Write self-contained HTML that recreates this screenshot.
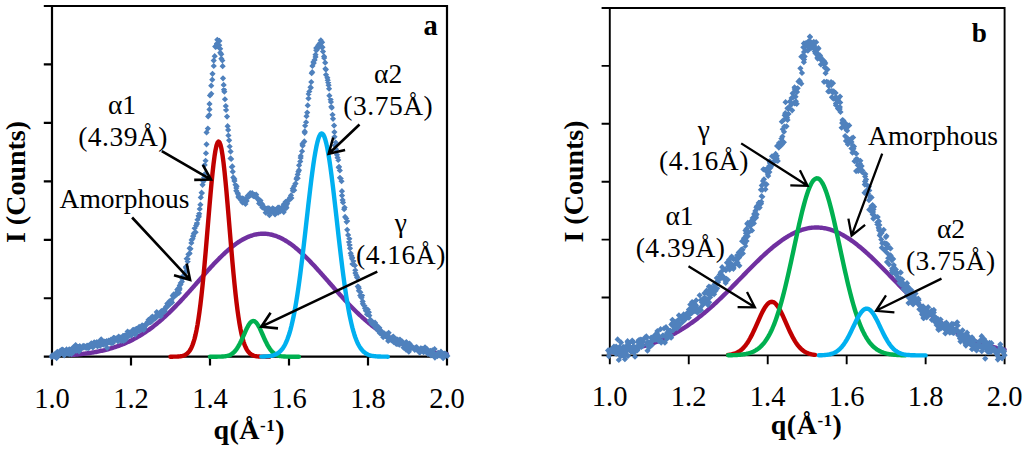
<!DOCTYPE html>
<html><head><meta charset="utf-8"><style>
html,body{margin:0;padding:0;background:#fff;}
body{width:1024px;height:449px;overflow:hidden;font-family:"Liberation Serif",serif;}
svg{display:block;}
</style></head><body>
<svg width="1024" height="449" viewBox="0 0 1024 449">
<rect width="1024" height="449" fill="#fff"/>
<g fill="none" stroke="#000" stroke-width="2.2">
<path d="M52,6 H447 V356.7 H52 Z" stroke-linejoin="miter" stroke-linecap="square"/>
<path d="M43.8,356.70 H52 M43.8,298.25 H52 M43.8,239.80 H52 M43.8,181.35 H52 M43.8,122.90 H52 M43.8,64.45 H52 M43.8,6.00 H52 M52.00,356.7 V365.5 M131.00,356.7 V365.5 M210.00,356.7 V365.5 M289.00,356.7 V365.5 M368.00,356.7 V365.5 M447.00,356.7 V365.5 " stroke-linecap="butt"/>
</g><g fill="none" stroke="#000" stroke-width="1.9">
<path d="M609.8,8 H1004.6 V355.4 H609.8 Z" stroke-linejoin="miter" stroke-linecap="square"/>
<path d="M601.5999999999999,355.40 H609.8 M601.5999999999999,297.50 H609.8 M601.5999999999999,239.60 H609.8 M601.5999999999999,181.70 H609.8 M601.5999999999999,123.80 H609.8 M601.5999999999999,65.90 H609.8 M601.5999999999999,8.00 H609.8 M609.80,355.4 V364.2 M688.76,355.4 V364.2 M767.72,355.4 V364.2 M846.68,355.4 V364.2 M925.64,355.4 V364.2 M1004.60,355.4 V364.2 " stroke-linecap="butt"/>
</g>
<g fill="none" stroke-width="4.4" stroke-linecap="round" stroke-linejoin="round">
<path d="M71.75,354.96 L72.75,354.88 L73.75,354.80 L74.75,354.71 L75.75,354.63 L76.75,354.53 L77.75,354.44 L78.75,354.34 L79.75,354.24 L80.75,354.13 L81.75,354.02 L82.75,353.90 L83.75,353.78 L84.75,353.66 L85.75,353.53 L86.75,353.40 L87.75,353.26 L88.75,353.12 L89.75,352.97 L90.75,352.82 L91.75,352.66 L92.75,352.49 L93.75,352.32 L94.75,352.15 L95.75,351.97 L96.75,351.78 L97.75,351.59 L98.75,351.39 L99.75,351.18 L100.75,350.97 L101.75,350.75 L102.75,350.52 L103.75,350.29 L104.75,350.05 L105.75,349.80 L106.75,349.54 L107.75,349.28 L108.75,349.01 L109.75,348.73 L110.75,348.44 L111.75,348.14 L112.75,347.83 L113.75,347.52 L114.75,347.20 L115.75,346.86 L116.75,346.52 L117.75,346.17 L118.75,345.81 L119.75,345.44 L120.75,345.06 L121.75,344.67 L122.75,344.27 L123.75,343.86 L124.75,343.44 L125.75,343.00 L126.75,342.56 L127.75,342.11 L128.75,341.64 L129.75,341.17 L130.75,340.68 L131.75,340.18 L132.75,339.67 L133.75,339.15 L134.75,338.61 L135.75,338.07 L136.75,337.51 L137.75,336.94 L138.75,336.36 L139.75,335.76 L140.75,335.16 L141.75,334.54 L142.75,333.91 L143.75,333.26 L144.75,332.60 L145.75,331.94 L146.75,331.25 L147.75,330.56 L148.75,329.85 L149.75,329.13 L150.75,328.40 L151.75,327.65 L152.75,326.89 L153.75,326.12 L154.75,325.34 L155.75,324.54 L156.75,323.73 L157.75,322.91 L158.75,322.07 L159.75,321.23 L160.75,320.37 L161.75,319.50 L162.75,318.61 L163.75,317.72 L164.75,316.81 L165.75,315.90 L166.75,314.97 L167.75,314.02 L168.75,313.07 L169.75,312.11 L170.75,311.14 L171.75,310.15 L172.75,309.16 L173.75,308.15 L174.75,307.14 L175.75,306.12 L176.75,305.08 L177.75,304.04 L178.75,302.99 L179.75,301.93 L180.75,300.87 L181.75,299.80 L182.75,298.71 L183.75,297.63 L184.75,296.53 L185.75,295.43 L186.75,294.33 L187.75,293.22 L188.75,292.10 L189.75,290.98 L190.75,289.86 L191.75,288.73 L192.75,287.60 L193.75,286.47 L194.75,285.34 L195.75,284.20 L196.75,283.06 L197.75,281.93 L198.75,280.79 L199.75,279.65 L200.75,278.52 L201.75,277.38 L202.75,276.25 L203.75,275.12 L204.75,274.00 L205.75,272.88 L206.75,271.76 L207.75,270.65 L208.75,269.54 L209.75,268.44 L210.75,267.35 L211.75,266.27 L212.75,265.19 L213.75,264.12 L214.75,263.06 L215.75,262.01 L216.75,260.97 L217.75,259.95 L218.75,258.93 L219.75,257.93 L220.75,256.94 L221.75,255.96 L222.75,254.99 L223.75,254.05 L224.75,253.11 L225.75,252.20 L226.75,251.29 L227.75,250.41 L228.75,249.54 L229.75,248.69 L230.75,247.86 L231.75,247.05 L232.75,246.26 L233.75,245.49 L234.75,244.74 L235.75,244.01 L236.75,243.30 L237.75,242.62 L238.75,241.95 L239.75,241.31 L240.75,240.70 L241.75,240.10 L242.75,239.53 L243.75,238.99 L244.75,238.47 L245.75,237.98 L246.75,237.51 L247.75,237.06 L248.75,236.65 L249.75,236.26 L250.75,235.90 L251.75,235.56 L252.75,235.25 L253.75,234.97 L254.75,234.72 L255.75,234.49 L256.75,234.29 L257.75,234.12 L258.75,233.98 L259.75,233.87 L260.75,233.79 L261.75,233.73 L262.75,233.70 L263.75,233.70 L264.75,233.73 L265.75,233.79 L266.75,233.88 L267.75,234.00 L268.75,234.14 L269.75,234.31 L270.75,234.51 L271.75,234.74 L272.75,235.00 L273.75,235.28 L274.75,235.59 L275.75,235.93 L276.75,236.30 L277.75,236.69 L278.75,237.11 L279.75,237.55 L280.75,238.02 L281.75,238.52 L282.75,239.04 L283.75,239.59 L284.75,240.16 L285.75,240.76 L286.75,241.38 L287.75,242.02 L288.75,242.68 L289.75,243.37 L290.75,244.08 L291.75,244.81 L292.75,245.57 L293.75,246.34 L294.75,247.13 L295.75,247.95 L296.75,248.78 L297.75,249.63 L298.75,250.50 L299.75,251.38 L300.75,252.29 L301.75,253.21 L302.75,254.14 L303.75,255.09 L304.75,256.06 L305.75,257.03 L306.75,258.03 L307.75,259.03 L308.75,260.05 L309.75,261.08 L310.75,262.12 L311.75,263.17 L312.75,264.23 L313.75,265.30 L314.75,266.37 L315.75,267.46 L316.75,268.55 L317.75,269.65 L318.75,270.76 L319.75,271.87 L320.75,272.99 L321.75,274.11 L322.75,275.24 L323.75,276.37 L324.75,277.50 L325.75,278.63 L326.75,279.77 L327.75,280.90 L328.75,282.04 L329.75,283.18 L330.75,284.31 L331.75,285.45 L332.75,286.58 L333.75,287.72 L334.75,288.85 L335.75,289.97 L336.75,291.09 L337.75,292.21 L338.75,293.33 L339.75,294.44 L340.75,295.54 L341.75,296.64 L342.75,297.74 L343.75,298.82 L344.75,299.90 L345.75,300.98 L346.75,302.04 L347.75,303.10 L348.75,304.15 L349.75,305.19 L350.75,306.22 L351.75,307.24 L352.75,308.25 L353.75,309.26 L354.75,310.25 L355.75,311.23 L356.75,312.21 L357.75,313.17 L358.75,314.12 L359.75,315.06 L360.75,315.99 L361.75,316.90 L362.75,317.81 L363.75,318.70 L364.75,319.59 L365.75,320.46 L366.75,321.31 L367.75,322.16 L368.75,322.99 L369.75,323.81 L370.75,324.62 L371.75,325.42 L372.75,326.20 L373.75,326.97 L374.75,327.73 L375.75,328.47 L376.75,329.20 L377.75,329.92 L378.75,330.63 L379.75,331.32 L380.75,332.00 L381.75,332.67 L382.75,333.33 L383.75,333.97 L384.75,334.60 L385.75,335.22 L386.75,335.82 L387.75,336.42 L388.75,337.00 L389.75,337.57 L390.75,338.12 L391.75,338.67 L392.75,339.20 L393.75,339.72 L394.75,340.23 L395.75,340.73 L396.75,341.21 L397.75,341.69 L398.75,342.15 L399.75,342.61 L400.75,343.05 L401.75,343.48 L402.75,343.90 L403.75,344.31 L404.75,344.71 L405.75,345.10 L406.75,345.48 L407.75,345.85 L408.75,346.21 L409.75,346.56 L410.75,346.90 L411.75,347.23 L412.75,347.55 L413.75,347.86 L414.75,348.17 L415.75,348.47 L416.75,348.75 L417.75,349.03 L418.75,349.30 L419.75,349.57 L420.75,349.82 L421.75,350.07 L422.75,350.31 L423.75,350.54 L424.75,350.77 L425.75,350.99 L426.75,351.20 L427.75,351.41 L428.75,351.61 L429.75,351.80 L430.75,351.99 L431.75,352.17 L432.75,352.34 L433.75,352.51 L434.75,352.67 L435.75,352.83 L436.75,352.98 L437.75,353.13 L438.75,353.27 L439.75,353.41 L440.75,353.54 L441.75,353.67 L442.75,353.79 L443.75,353.91 L444.75,354.03 L445.75,354.14 L446.75,354.25 L447.00,354.27" stroke="#7030A0" />
<path d="M51.80,353.81l3.10,3.10l-3.10,3.10l-3.10,-3.10zM52.12,352.37l3.10,3.10l-3.10,3.10l-3.10,-3.10zM52.63,352.41l3.10,3.10l-3.10,3.10l-3.10,-3.10zM54.01,353.24l3.10,3.10l-3.10,3.10l-3.10,-3.10zM54.18,351.38l3.10,3.10l-3.10,3.10l-3.10,-3.10zM54.68,351.20l3.10,3.10l-3.10,3.10l-3.10,-3.10zM55.31,353.75l3.10,3.10l-3.10,3.10l-3.10,-3.10zM55.83,352.63l3.10,3.10l-3.10,3.10l-3.10,-3.10zM56.63,354.93l3.10,3.10l-3.10,3.10l-3.10,-3.10zM57.12,350.23l3.10,3.10l-3.10,3.10l-3.10,-3.10zM57.32,348.71l3.10,3.10l-3.10,3.10l-3.10,-3.10zM57.80,353.16l3.10,3.10l-3.10,3.10l-3.10,-3.10zM58.27,353.02l3.10,3.10l-3.10,3.10l-3.10,-3.10zM58.77,349.97l3.10,3.10l-3.10,3.10l-3.10,-3.10zM60.12,348.55l3.10,3.10l-3.10,3.10l-3.10,-3.10zM59.98,350.80l3.10,3.10l-3.10,3.10l-3.10,-3.10zM60.19,347.73l3.10,3.10l-3.10,3.10l-3.10,-3.10zM61.10,349.96l3.10,3.10l-3.10,3.10l-3.10,-3.10zM61.66,346.67l3.10,3.10l-3.10,3.10l-3.10,-3.10zM62.55,349.80l3.10,3.10l-3.10,3.10l-3.10,-3.10zM62.73,346.44l3.10,3.10l-3.10,3.10l-3.10,-3.10zM63.71,349.47l3.10,3.10l-3.10,3.10l-3.10,-3.10zM64.22,352.29l3.10,3.10l-3.10,3.10l-3.10,-3.10zM65.03,349.09l3.10,3.10l-3.10,3.10l-3.10,-3.10zM65.85,350.69l3.10,3.10l-3.10,3.10l-3.10,-3.10zM66.60,348.13l3.10,3.10l-3.10,3.10l-3.10,-3.10zM66.71,347.54l3.10,3.10l-3.10,3.10l-3.10,-3.10zM66.50,346.35l3.10,3.10l-3.10,3.10l-3.10,-3.10zM67.28,350.50l3.10,3.10l-3.10,3.10l-3.10,-3.10zM68.02,348.47l3.10,3.10l-3.10,3.10l-3.10,-3.10zM69.12,351.16l3.10,3.10l-3.10,3.10l-3.10,-3.10zM69.25,346.24l3.10,3.10l-3.10,3.10l-3.10,-3.10zM69.96,347.70l3.10,3.10l-3.10,3.10l-3.10,-3.10zM70.10,348.05l3.10,3.10l-3.10,3.10l-3.10,-3.10zM70.88,350.16l3.10,3.10l-3.10,3.10l-3.10,-3.10zM71.47,350.70l3.10,3.10l-3.10,3.10l-3.10,-3.10zM71.66,346.34l3.10,3.10l-3.10,3.10l-3.10,-3.10zM72.58,345.36l3.10,3.10l-3.10,3.10l-3.10,-3.10zM73.22,344.17l3.10,3.10l-3.10,3.10l-3.10,-3.10zM73.40,349.24l3.10,3.10l-3.10,3.10l-3.10,-3.10zM74.31,346.67l3.10,3.10l-3.10,3.10l-3.10,-3.10zM75.04,345.56l3.10,3.10l-3.10,3.10l-3.10,-3.10zM75.12,346.42l3.10,3.10l-3.10,3.10l-3.10,-3.10zM75.65,342.00l3.10,3.10l-3.10,3.10l-3.10,-3.10zM76.11,343.27l3.10,3.10l-3.10,3.10l-3.10,-3.10zM76.56,347.64l3.10,3.10l-3.10,3.10l-3.10,-3.10zM77.35,346.58l3.10,3.10l-3.10,3.10l-3.10,-3.10zM77.73,346.01l3.10,3.10l-3.10,3.10l-3.10,-3.10zM78.31,343.91l3.10,3.10l-3.10,3.10l-3.10,-3.10zM78.72,346.47l3.10,3.10l-3.10,3.10l-3.10,-3.10zM79.04,348.35l3.10,3.10l-3.10,3.10l-3.10,-3.10zM79.77,343.10l3.10,3.10l-3.10,3.10l-3.10,-3.10zM80.70,345.07l3.10,3.10l-3.10,3.10l-3.10,-3.10zM80.80,344.16l3.10,3.10l-3.10,3.10l-3.10,-3.10zM81.51,345.38l3.10,3.10l-3.10,3.10l-3.10,-3.10zM82.74,344.65l3.10,3.10l-3.10,3.10l-3.10,-3.10zM83.14,344.24l3.10,3.10l-3.10,3.10l-3.10,-3.10zM83.14,342.86l3.10,3.10l-3.10,3.10l-3.10,-3.10zM84.08,344.20l3.10,3.10l-3.10,3.10l-3.10,-3.10zM84.25,343.05l3.10,3.10l-3.10,3.10l-3.10,-3.10zM85.49,343.71l3.10,3.10l-3.10,3.10l-3.10,-3.10zM85.37,343.72l3.10,3.10l-3.10,3.10l-3.10,-3.10zM86.12,344.81l3.10,3.10l-3.10,3.10l-3.10,-3.10zM87.07,342.57l3.10,3.10l-3.10,3.10l-3.10,-3.10zM86.95,342.88l3.10,3.10l-3.10,3.10l-3.10,-3.10zM88.14,345.12l3.10,3.10l-3.10,3.10l-3.10,-3.10zM88.05,342.79l3.10,3.10l-3.10,3.10l-3.10,-3.10zM88.92,342.59l3.10,3.10l-3.10,3.10l-3.10,-3.10zM89.31,344.37l3.10,3.10l-3.10,3.10l-3.10,-3.10zM89.92,343.23l3.10,3.10l-3.10,3.10l-3.10,-3.10zM90.55,342.79l3.10,3.10l-3.10,3.10l-3.10,-3.10zM91.03,342.87l3.10,3.10l-3.10,3.10l-3.10,-3.10zM91.29,340.25l3.10,3.10l-3.10,3.10l-3.10,-3.10zM92.41,343.01l3.10,3.10l-3.10,3.10l-3.10,-3.10zM92.92,344.34l3.10,3.10l-3.10,3.10l-3.10,-3.10zM93.64,342.94l3.10,3.10l-3.10,3.10l-3.10,-3.10zM94.22,339.17l3.10,3.10l-3.10,3.10l-3.10,-3.10zM93.95,342.16l3.10,3.10l-3.10,3.10l-3.10,-3.10zM95.29,340.00l3.10,3.10l-3.10,3.10l-3.10,-3.10zM95.84,341.01l3.10,3.10l-3.10,3.10l-3.10,-3.10zM95.84,341.48l3.10,3.10l-3.10,3.10l-3.10,-3.10zM96.86,339.10l3.10,3.10l-3.10,3.10l-3.10,-3.10zM97.54,343.26l3.10,3.10l-3.10,3.10l-3.10,-3.10zM97.49,340.73l3.10,3.10l-3.10,3.10l-3.10,-3.10zM97.79,342.05l3.10,3.10l-3.10,3.10l-3.10,-3.10zM98.64,341.65l3.10,3.10l-3.10,3.10l-3.10,-3.10zM100.14,342.71l3.10,3.10l-3.10,3.10l-3.10,-3.10zM99.92,342.31l3.10,3.10l-3.10,3.10l-3.10,-3.10zM100.04,337.64l3.10,3.10l-3.10,3.10l-3.10,-3.10zM100.87,340.08l3.10,3.10l-3.10,3.10l-3.10,-3.10zM101.20,336.24l3.10,3.10l-3.10,3.10l-3.10,-3.10zM101.93,338.97l3.10,3.10l-3.10,3.10l-3.10,-3.10zM102.63,340.81l3.10,3.10l-3.10,3.10l-3.10,-3.10zM102.38,341.01l3.10,3.10l-3.10,3.10l-3.10,-3.10zM103.81,341.51l3.10,3.10l-3.10,3.10l-3.10,-3.10zM104.67,338.54l3.10,3.10l-3.10,3.10l-3.10,-3.10zM104.74,339.59l3.10,3.10l-3.10,3.10l-3.10,-3.10zM105.24,339.07l3.10,3.10l-3.10,3.10l-3.10,-3.10zM106.23,340.92l3.10,3.10l-3.10,3.10l-3.10,-3.10zM106.07,341.34l3.10,3.10l-3.10,3.10l-3.10,-3.10zM106.63,337.90l3.10,3.10l-3.10,3.10l-3.10,-3.10zM107.13,344.81l3.10,3.10l-3.10,3.10l-3.10,-3.10zM108.05,338.24l3.10,3.10l-3.10,3.10l-3.10,-3.10zM108.77,337.50l3.10,3.10l-3.10,3.10l-3.10,-3.10zM109.17,339.02l3.10,3.10l-3.10,3.10l-3.10,-3.10zM109.91,339.16l3.10,3.10l-3.10,3.10l-3.10,-3.10zM110.55,338.68l3.10,3.10l-3.10,3.10l-3.10,-3.10zM111.00,336.52l3.10,3.10l-3.10,3.10l-3.10,-3.10zM111.16,340.00l3.10,3.10l-3.10,3.10l-3.10,-3.10zM111.87,337.46l3.10,3.10l-3.10,3.10l-3.10,-3.10zM112.87,339.86l3.10,3.10l-3.10,3.10l-3.10,-3.10zM112.74,339.48l3.10,3.10l-3.10,3.10l-3.10,-3.10zM113.52,334.82l3.10,3.10l-3.10,3.10l-3.10,-3.10zM114.02,335.19l3.10,3.10l-3.10,3.10l-3.10,-3.10zM114.65,335.01l3.10,3.10l-3.10,3.10l-3.10,-3.10zM114.93,337.00l3.10,3.10l-3.10,3.10l-3.10,-3.10zM115.40,336.52l3.10,3.10l-3.10,3.10l-3.10,-3.10zM117.12,336.74l3.10,3.10l-3.10,3.10l-3.10,-3.10zM117.18,334.75l3.10,3.10l-3.10,3.10l-3.10,-3.10zM117.24,336.70l3.10,3.10l-3.10,3.10l-3.10,-3.10zM117.98,338.21l3.10,3.10l-3.10,3.10l-3.10,-3.10zM118.75,333.38l3.10,3.10l-3.10,3.10l-3.10,-3.10zM119.00,335.15l3.10,3.10l-3.10,3.10l-3.10,-3.10zM119.83,335.73l3.10,3.10l-3.10,3.10l-3.10,-3.10zM120.02,334.90l3.10,3.10l-3.10,3.10l-3.10,-3.10zM120.64,334.60l3.10,3.10l-3.10,3.10l-3.10,-3.10zM121.27,337.75l3.10,3.10l-3.10,3.10l-3.10,-3.10zM121.71,336.73l3.10,3.10l-3.10,3.10l-3.10,-3.10zM121.66,335.80l3.10,3.10l-3.10,3.10l-3.10,-3.10zM122.96,332.85l3.10,3.10l-3.10,3.10l-3.10,-3.10zM123.58,337.75l3.10,3.10l-3.10,3.10l-3.10,-3.10zM124.19,334.34l3.10,3.10l-3.10,3.10l-3.10,-3.10zM124.30,332.53l3.10,3.10l-3.10,3.10l-3.10,-3.10zM125.25,332.71l3.10,3.10l-3.10,3.10l-3.10,-3.10zM125.76,332.23l3.10,3.10l-3.10,3.10l-3.10,-3.10zM125.72,336.44l3.10,3.10l-3.10,3.10l-3.10,-3.10zM126.14,332.95l3.10,3.10l-3.10,3.10l-3.10,-3.10zM127.49,332.47l3.10,3.10l-3.10,3.10l-3.10,-3.10zM127.61,328.46l3.10,3.10l-3.10,3.10l-3.10,-3.10zM128.75,333.13l3.10,3.10l-3.10,3.10l-3.10,-3.10zM129.64,329.83l3.10,3.10l-3.10,3.10l-3.10,-3.10zM129.38,329.46l3.10,3.10l-3.10,3.10l-3.10,-3.10zM129.89,332.17l3.10,3.10l-3.10,3.10l-3.10,-3.10zM130.65,329.40l3.10,3.10l-3.10,3.10l-3.10,-3.10zM131.40,332.03l3.10,3.10l-3.10,3.10l-3.10,-3.10zM131.41,332.26l3.10,3.10l-3.10,3.10l-3.10,-3.10zM132.67,327.04l3.10,3.10l-3.10,3.10l-3.10,-3.10zM133.15,329.58l3.10,3.10l-3.10,3.10l-3.10,-3.10zM133.60,326.86l3.10,3.10l-3.10,3.10l-3.10,-3.10zM133.79,329.15l3.10,3.10l-3.10,3.10l-3.10,-3.10zM134.77,330.52l3.10,3.10l-3.10,3.10l-3.10,-3.10zM135.31,326.36l3.10,3.10l-3.10,3.10l-3.10,-3.10zM135.24,331.44l3.10,3.10l-3.10,3.10l-3.10,-3.10zM136.78,327.55l3.10,3.10l-3.10,3.10l-3.10,-3.10zM136.61,325.76l3.10,3.10l-3.10,3.10l-3.10,-3.10zM137.36,327.24l3.10,3.10l-3.10,3.10l-3.10,-3.10zM137.64,328.48l3.10,3.10l-3.10,3.10l-3.10,-3.10zM138.47,324.47l3.10,3.10l-3.10,3.10l-3.10,-3.10zM139.25,326.48l3.10,3.10l-3.10,3.10l-3.10,-3.10zM139.21,323.81l3.10,3.10l-3.10,3.10l-3.10,-3.10zM139.50,327.85l3.10,3.10l-3.10,3.10l-3.10,-3.10zM140.42,325.72l3.10,3.10l-3.10,3.10l-3.10,-3.10zM140.71,324.39l3.10,3.10l-3.10,3.10l-3.10,-3.10zM141.42,326.52l3.10,3.10l-3.10,3.10l-3.10,-3.10zM142.16,322.21l3.10,3.10l-3.10,3.10l-3.10,-3.10zM142.73,323.36l3.10,3.10l-3.10,3.10l-3.10,-3.10zM143.69,326.80l3.10,3.10l-3.10,3.10l-3.10,-3.10zM143.55,323.07l3.10,3.10l-3.10,3.10l-3.10,-3.10zM144.51,325.21l3.10,3.10l-3.10,3.10l-3.10,-3.10zM144.80,322.85l3.10,3.10l-3.10,3.10l-3.10,-3.10zM145.91,320.93l3.10,3.10l-3.10,3.10l-3.10,-3.10zM146.81,321.29l3.10,3.10l-3.10,3.10l-3.10,-3.10zM146.69,321.41l3.10,3.10l-3.10,3.10l-3.10,-3.10zM147.65,320.13l3.10,3.10l-3.10,3.10l-3.10,-3.10zM147.54,318.96l3.10,3.10l-3.10,3.10l-3.10,-3.10zM147.77,318.55l3.10,3.10l-3.10,3.10l-3.10,-3.10zM148.42,316.87l3.10,3.10l-3.10,3.10l-3.10,-3.10zM148.88,319.08l3.10,3.10l-3.10,3.10l-3.10,-3.10zM149.61,319.06l3.10,3.10l-3.10,3.10l-3.10,-3.10zM150.38,319.16l3.10,3.10l-3.10,3.10l-3.10,-3.10zM151.35,314.32l3.10,3.10l-3.10,3.10l-3.10,-3.10zM151.76,318.25l3.10,3.10l-3.10,3.10l-3.10,-3.10zM152.24,316.36l3.10,3.10l-3.10,3.10l-3.10,-3.10zM152.52,313.47l3.10,3.10l-3.10,3.10l-3.10,-3.10zM152.98,315.59l3.10,3.10l-3.10,3.10l-3.10,-3.10zM153.76,316.34l3.10,3.10l-3.10,3.10l-3.10,-3.10zM154.34,315.39l3.10,3.10l-3.10,3.10l-3.10,-3.10zM154.93,315.30l3.10,3.10l-3.10,3.10l-3.10,-3.10zM155.51,315.26l3.10,3.10l-3.10,3.10l-3.10,-3.10zM155.91,314.79l3.10,3.10l-3.10,3.10l-3.10,-3.10zM155.92,312.82l3.10,3.10l-3.10,3.10l-3.10,-3.10zM156.72,308.98l3.10,3.10l-3.10,3.10l-3.10,-3.10zM157.35,310.86l3.10,3.10l-3.10,3.10l-3.10,-3.10zM158.66,312.41l3.10,3.10l-3.10,3.10l-3.10,-3.10zM158.57,310.65l3.10,3.10l-3.10,3.10l-3.10,-3.10zM159.45,312.25l3.10,3.10l-3.10,3.10l-3.10,-3.10zM160.24,312.08l3.10,3.10l-3.10,3.10l-3.10,-3.10zM160.45,310.43l3.10,3.10l-3.10,3.10l-3.10,-3.10zM160.78,313.16l3.10,3.10l-3.10,3.10l-3.10,-3.10zM161.36,307.90l3.10,3.10l-3.10,3.10l-3.10,-3.10zM161.69,310.72l3.10,3.10l-3.10,3.10l-3.10,-3.10zM162.64,307.89l3.10,3.10l-3.10,3.10l-3.10,-3.10zM163.44,306.89l3.10,3.10l-3.10,3.10l-3.10,-3.10zM163.82,308.71l3.10,3.10l-3.10,3.10l-3.10,-3.10zM164.43,306.12l3.10,3.10l-3.10,3.10l-3.10,-3.10zM164.97,308.04l3.10,3.10l-3.10,3.10l-3.10,-3.10zM165.90,303.97l3.10,3.10l-3.10,3.10l-3.10,-3.10zM165.66,305.35l3.10,3.10l-3.10,3.10l-3.10,-3.10zM166.45,303.16l3.10,3.10l-3.10,3.10l-3.10,-3.10zM167.16,303.46l3.10,3.10l-3.10,3.10l-3.10,-3.10zM167.87,302.47l3.10,3.10l-3.10,3.10l-3.10,-3.10zM167.32,300.40l3.10,3.10l-3.10,3.10l-3.10,-3.10zM168.44,302.62l3.10,3.10l-3.10,3.10l-3.10,-3.10zM169.09,298.57l3.10,3.10l-3.10,3.10l-3.10,-3.10zM169.39,298.18l3.10,3.10l-3.10,3.10l-3.10,-3.10zM170.50,300.51l3.10,3.10l-3.10,3.10l-3.10,-3.10zM170.87,299.79l3.10,3.10l-3.10,3.10l-3.10,-3.10zM171.23,298.40l3.10,3.10l-3.10,3.10l-3.10,-3.10zM171.41,296.97l3.10,3.10l-3.10,3.10l-3.10,-3.10zM172.05,299.39l3.10,3.10l-3.10,3.10l-3.10,-3.10zM172.70,292.60l3.10,3.10l-3.10,3.10l-3.10,-3.10zM173.69,292.53l3.10,3.10l-3.10,3.10l-3.10,-3.10zM173.73,291.26l3.10,3.10l-3.10,3.10l-3.10,-3.10zM174.03,293.65l3.10,3.10l-3.10,3.10l-3.10,-3.10zM174.76,291.79l3.10,3.10l-3.10,3.10l-3.10,-3.10zM175.57,292.37l3.10,3.10l-3.10,3.10l-3.10,-3.10zM176.80,291.31l3.10,3.10l-3.10,3.10l-3.10,-3.10zM177.60,288.43l3.10,3.10l-3.10,3.10l-3.10,-3.10zM177.26,286.55l3.10,3.10l-3.10,3.10l-3.10,-3.10zM178.23,285.36l3.10,3.10l-3.10,3.10l-3.10,-3.10zM178.92,289.87l3.10,3.10l-3.10,3.10l-3.10,-3.10zM179.44,286.77l3.10,3.10l-3.10,3.10l-3.10,-3.10zM179.56,285.09l3.10,3.10l-3.10,3.10l-3.10,-3.10zM179.76,282.40l3.10,3.10l-3.10,3.10l-3.10,-3.10zM180.55,281.46l3.10,3.10l-3.10,3.10l-3.10,-3.10zM180.69,279.95l3.10,3.10l-3.10,3.10l-3.10,-3.10zM181.87,278.59l3.10,3.10l-3.10,3.10l-3.10,-3.10zM182.58,273.44l3.10,3.10l-3.10,3.10l-3.10,-3.10zM182.33,275.61l3.10,3.10l-3.10,3.10l-3.10,-3.10zM183.43,273.09l3.10,3.10l-3.10,3.10l-3.10,-3.10zM184.09,272.11l3.10,3.10l-3.10,3.10l-3.10,-3.10zM184.92,269.75l3.10,3.10l-3.10,3.10l-3.10,-3.10zM185.51,268.54l3.10,3.10l-3.10,3.10l-3.10,-3.10zM185.89,264.72l3.10,3.10l-3.10,3.10l-3.10,-3.10zM185.99,263.72l3.10,3.10l-3.10,3.10l-3.10,-3.10zM186.64,255.66l3.10,3.10l-3.10,3.10l-3.10,-3.10zM187.66,255.83l3.10,3.10l-3.10,3.10l-3.10,-3.10zM187.67,258.40l3.10,3.10l-3.10,3.10l-3.10,-3.10zM188.39,251.23l3.10,3.10l-3.10,3.10l-3.10,-3.10zM189.42,250.63l3.10,3.10l-3.10,3.10l-3.10,-3.10zM189.54,250.11l3.10,3.10l-3.10,3.10l-3.10,-3.10zM189.64,245.19l3.10,3.10l-3.10,3.10l-3.10,-3.10zM190.51,245.71l3.10,3.10l-3.10,3.10l-3.10,-3.10zM191.34,239.85l3.10,3.10l-3.10,3.10l-3.10,-3.10zM191.64,236.82l3.10,3.10l-3.10,3.10l-3.10,-3.10zM192.60,235.60l3.10,3.10l-3.10,3.10l-3.10,-3.10zM193.18,232.84l3.10,3.10l-3.10,3.10l-3.10,-3.10zM193.15,233.42l3.10,3.10l-3.10,3.10l-3.10,-3.10zM193.75,230.71l3.10,3.10l-3.10,3.10l-3.10,-3.10zM194.42,229.61l3.10,3.10l-3.10,3.10l-3.10,-3.10zM194.64,225.12l3.10,3.10l-3.10,3.10l-3.10,-3.10zM195.66,229.13l3.10,3.10l-3.10,3.10l-3.10,-3.10zM196.05,222.73l3.10,3.10l-3.10,3.10l-3.10,-3.10zM196.89,220.95l3.10,3.10l-3.10,3.10l-3.10,-3.10zM197.02,219.90l3.10,3.10l-3.10,3.10l-3.10,-3.10zM197.49,216.66l3.10,3.10l-3.10,3.10l-3.10,-3.10zM198.85,213.73l3.10,3.10l-3.10,3.10l-3.10,-3.10zM198.59,212.34l3.10,3.10l-3.10,3.10l-3.10,-3.10zM199.22,210.59l3.10,3.10l-3.10,3.10l-3.10,-3.10zM199.73,205.92l3.10,3.10l-3.10,3.10l-3.10,-3.10zM200.41,201.60l3.10,3.10l-3.10,3.10l-3.10,-3.10zM200.78,194.32l3.10,3.10l-3.10,3.10l-3.10,-3.10zM201.59,189.59l3.10,3.10l-3.10,3.10l-3.10,-3.10zM201.94,189.98l3.10,3.10l-3.10,3.10l-3.10,-3.10zM202.57,181.76l3.10,3.10l-3.10,3.10l-3.10,-3.10zM203.36,178.46l3.10,3.10l-3.10,3.10l-3.10,-3.10zM204.01,174.54l3.10,3.10l-3.10,3.10l-3.10,-3.10zM204.49,171.31l3.10,3.10l-3.10,3.10l-3.10,-3.10zM204.68,161.79l3.10,3.10l-3.10,3.10l-3.10,-3.10zM205.57,157.63l3.10,3.10l-3.10,3.10l-3.10,-3.10zM205.96,150.13l3.10,3.10l-3.10,3.10l-3.10,-3.10zM206.52,141.22l3.10,3.10l-3.10,3.10l-3.10,-3.10zM206.58,129.31l3.10,3.10l-3.10,3.10l-3.10,-3.10zM207.85,125.50l3.10,3.10l-3.10,3.10l-3.10,-3.10zM208.16,113.35l3.10,3.10l-3.10,3.10l-3.10,-3.10zM209.26,111.97l3.10,3.10l-3.10,3.10l-3.10,-3.10zM209.49,106.31l3.10,3.10l-3.10,3.10l-3.10,-3.10zM209.52,100.84l3.10,3.10l-3.10,3.10l-3.10,-3.10zM209.99,92.33l3.10,3.10l-3.10,3.10l-3.10,-3.10zM211.30,90.75l3.10,3.10l-3.10,3.10l-3.10,-3.10zM211.24,82.60l3.10,3.10l-3.10,3.10l-3.10,-3.10zM212.26,76.61l3.10,3.10l-3.10,3.10l-3.10,-3.10zM212.51,70.71l3.10,3.10l-3.10,3.10l-3.10,-3.10zM213.78,62.91l3.10,3.10l-3.10,3.10l-3.10,-3.10zM213.72,57.48l3.10,3.10l-3.10,3.10l-3.10,-3.10zM214.70,53.07l3.10,3.10l-3.10,3.10l-3.10,-3.10zM215.20,43.52l3.10,3.10l-3.10,3.10l-3.10,-3.10zM215.21,43.38l3.10,3.10l-3.10,3.10l-3.10,-3.10zM215.80,43.82l3.10,3.10l-3.10,3.10l-3.10,-3.10zM216.90,40.98l3.10,3.10l-3.10,3.10l-3.10,-3.10zM217.00,40.41l3.10,3.10l-3.10,3.10l-3.10,-3.10zM217.29,36.64l3.10,3.10l-3.10,3.10l-3.10,-3.10zM218.46,41.20l3.10,3.10l-3.10,3.10l-3.10,-3.10zM219.43,37.84l3.10,3.10l-3.10,3.10l-3.10,-3.10zM219.19,42.13l3.10,3.10l-3.10,3.10l-3.10,-3.10zM220.18,45.72l3.10,3.10l-3.10,3.10l-3.10,-3.10zM220.26,49.57l3.10,3.10l-3.10,3.10l-3.10,-3.10zM221.26,51.11l3.10,3.10l-3.10,3.10l-3.10,-3.10zM221.34,55.61l3.10,3.10l-3.10,3.10l-3.10,-3.10zM222.36,57.39l3.10,3.10l-3.10,3.10l-3.10,-3.10zM222.67,63.08l3.10,3.10l-3.10,3.10l-3.10,-3.10zM223.01,75.24l3.10,3.10l-3.10,3.10l-3.10,-3.10zM223.68,81.82l3.10,3.10l-3.10,3.10l-3.10,-3.10zM224.00,86.58l3.10,3.10l-3.10,3.10l-3.10,-3.10zM224.38,88.56l3.10,3.10l-3.10,3.10l-3.10,-3.10zM224.95,96.15l3.10,3.10l-3.10,3.10l-3.10,-3.10zM225.80,103.01l3.10,3.10l-3.10,3.10l-3.10,-3.10zM226.05,106.87l3.10,3.10l-3.10,3.10l-3.10,-3.10zM227.05,113.46l3.10,3.10l-3.10,3.10l-3.10,-3.10zM227.63,123.08l3.10,3.10l-3.10,3.10l-3.10,-3.10zM228.16,126.80l3.10,3.10l-3.10,3.10l-3.10,-3.10zM228.42,132.42l3.10,3.10l-3.10,3.10l-3.10,-3.10zM229.14,137.27l3.10,3.10l-3.10,3.10l-3.10,-3.10zM229.66,143.38l3.10,3.10l-3.10,3.10l-3.10,-3.10zM230.62,148.49l3.10,3.10l-3.10,3.10l-3.10,-3.10zM230.53,155.32l3.10,3.10l-3.10,3.10l-3.10,-3.10zM231.20,155.84l3.10,3.10l-3.10,3.10l-3.10,-3.10zM231.80,163.85l3.10,3.10l-3.10,3.10l-3.10,-3.10zM232.38,163.37l3.10,3.10l-3.10,3.10l-3.10,-3.10zM232.75,168.53l3.10,3.10l-3.10,3.10l-3.10,-3.10zM233.33,174.33l3.10,3.10l-3.10,3.10l-3.10,-3.10zM234.38,175.80l3.10,3.10l-3.10,3.10l-3.10,-3.10zM234.43,177.84l3.10,3.10l-3.10,3.10l-3.10,-3.10zM235.45,181.66l3.10,3.10l-3.10,3.10l-3.10,-3.10zM236.33,184.81l3.10,3.10l-3.10,3.10l-3.10,-3.10zM236.65,183.21l3.10,3.10l-3.10,3.10l-3.10,-3.10zM236.28,187.70l3.10,3.10l-3.10,3.10l-3.10,-3.10zM237.60,189.79l3.10,3.10l-3.10,3.10l-3.10,-3.10zM238.06,190.95l3.10,3.10l-3.10,3.10l-3.10,-3.10zM238.63,194.31l3.10,3.10l-3.10,3.10l-3.10,-3.10zM238.53,193.22l3.10,3.10l-3.10,3.10l-3.10,-3.10zM239.80,194.34l3.10,3.10l-3.10,3.10l-3.10,-3.10zM239.79,195.50l3.10,3.10l-3.10,3.10l-3.10,-3.10zM241.06,197.10l3.10,3.10l-3.10,3.10l-3.10,-3.10zM241.54,195.87l3.10,3.10l-3.10,3.10l-3.10,-3.10zM242.54,199.18l3.10,3.10l-3.10,3.10l-3.10,-3.10zM242.20,195.35l3.10,3.10l-3.10,3.10l-3.10,-3.10zM242.41,199.33l3.10,3.10l-3.10,3.10l-3.10,-3.10zM243.73,195.87l3.10,3.10l-3.10,3.10l-3.10,-3.10zM244.23,197.17l3.10,3.10l-3.10,3.10l-3.10,-3.10zM244.40,198.12l3.10,3.10l-3.10,3.10l-3.10,-3.10zM245.48,200.89l3.10,3.10l-3.10,3.10l-3.10,-3.10zM245.83,198.54l3.10,3.10l-3.10,3.10l-3.10,-3.10zM245.78,195.73l3.10,3.10l-3.10,3.10l-3.10,-3.10zM246.61,197.87l3.10,3.10l-3.10,3.10l-3.10,-3.10zM247.13,194.44l3.10,3.10l-3.10,3.10l-3.10,-3.10zM247.79,192.56l3.10,3.10l-3.10,3.10l-3.10,-3.10zM248.43,193.78l3.10,3.10l-3.10,3.10l-3.10,-3.10zM248.71,192.37l3.10,3.10l-3.10,3.10l-3.10,-3.10zM249.41,193.15l3.10,3.10l-3.10,3.10l-3.10,-3.10zM250.20,190.11l3.10,3.10l-3.10,3.10l-3.10,-3.10zM250.55,191.46l3.10,3.10l-3.10,3.10l-3.10,-3.10zM251.04,191.90l3.10,3.10l-3.10,3.10l-3.10,-3.10zM251.58,191.37l3.10,3.10l-3.10,3.10l-3.10,-3.10zM252.19,190.99l3.10,3.10l-3.10,3.10l-3.10,-3.10zM252.19,190.05l3.10,3.10l-3.10,3.10l-3.10,-3.10zM253.37,193.01l3.10,3.10l-3.10,3.10l-3.10,-3.10zM253.56,192.00l3.10,3.10l-3.10,3.10l-3.10,-3.10zM254.45,192.93l3.10,3.10l-3.10,3.10l-3.10,-3.10zM254.53,191.85l3.10,3.10l-3.10,3.10l-3.10,-3.10zM255.79,192.85l3.10,3.10l-3.10,3.10l-3.10,-3.10zM256.14,191.48l3.10,3.10l-3.10,3.10l-3.10,-3.10zM256.21,193.81l3.10,3.10l-3.10,3.10l-3.10,-3.10zM257.24,195.43l3.10,3.10l-3.10,3.10l-3.10,-3.10zM257.49,194.99l3.10,3.10l-3.10,3.10l-3.10,-3.10zM258.81,197.22l3.10,3.10l-3.10,3.10l-3.10,-3.10zM258.97,197.36l3.10,3.10l-3.10,3.10l-3.10,-3.10zM259.13,200.30l3.10,3.10l-3.10,3.10l-3.10,-3.10zM259.99,198.83l3.10,3.10l-3.10,3.10l-3.10,-3.10zM260.46,197.49l3.10,3.10l-3.10,3.10l-3.10,-3.10zM261.38,202.02l3.10,3.10l-3.10,3.10l-3.10,-3.10zM261.68,201.82l3.10,3.10l-3.10,3.10l-3.10,-3.10zM262.27,201.06l3.10,3.10l-3.10,3.10l-3.10,-3.10zM262.33,204.41l3.10,3.10l-3.10,3.10l-3.10,-3.10zM263.46,204.34l3.10,3.10l-3.10,3.10l-3.10,-3.10zM264.40,205.22l3.10,3.10l-3.10,3.10l-3.10,-3.10zM264.51,204.46l3.10,3.10l-3.10,3.10l-3.10,-3.10zM264.86,205.89l3.10,3.10l-3.10,3.10l-3.10,-3.10zM265.47,206.50l3.10,3.10l-3.10,3.10l-3.10,-3.10zM265.68,209.57l3.10,3.10l-3.10,3.10l-3.10,-3.10zM266.58,205.83l3.10,3.10l-3.10,3.10l-3.10,-3.10zM266.74,207.37l3.10,3.10l-3.10,3.10l-3.10,-3.10zM267.63,208.36l3.10,3.10l-3.10,3.10l-3.10,-3.10zM268.05,205.11l3.10,3.10l-3.10,3.10l-3.10,-3.10zM268.47,205.56l3.10,3.10l-3.10,3.10l-3.10,-3.10zM269.44,212.14l3.10,3.10l-3.10,3.10l-3.10,-3.10zM269.37,205.56l3.10,3.10l-3.10,3.10l-3.10,-3.10zM270.36,209.58l3.10,3.10l-3.10,3.10l-3.10,-3.10zM270.52,207.15l3.10,3.10l-3.10,3.10l-3.10,-3.10zM272.02,207.26l3.10,3.10l-3.10,3.10l-3.10,-3.10zM272.61,205.13l3.10,3.10l-3.10,3.10l-3.10,-3.10zM272.82,206.90l3.10,3.10l-3.10,3.10l-3.10,-3.10zM273.69,209.69l3.10,3.10l-3.10,3.10l-3.10,-3.10zM273.85,205.90l3.10,3.10l-3.10,3.10l-3.10,-3.10zM274.38,209.16l3.10,3.10l-3.10,3.10l-3.10,-3.10zM274.64,208.56l3.10,3.10l-3.10,3.10l-3.10,-3.10zM275.05,211.34l3.10,3.10l-3.10,3.10l-3.10,-3.10zM275.91,206.97l3.10,3.10l-3.10,3.10l-3.10,-3.10zM276.26,209.78l3.10,3.10l-3.10,3.10l-3.10,-3.10zM276.84,209.01l3.10,3.10l-3.10,3.10l-3.10,-3.10zM277.74,206.86l3.10,3.10l-3.10,3.10l-3.10,-3.10zM278.03,204.38l3.10,3.10l-3.10,3.10l-3.10,-3.10zM278.15,209.61l3.10,3.10l-3.10,3.10l-3.10,-3.10zM279.11,204.55l3.10,3.10l-3.10,3.10l-3.10,-3.10zM279.49,205.88l3.10,3.10l-3.10,3.10l-3.10,-3.10zM280.18,207.97l3.10,3.10l-3.10,3.10l-3.10,-3.10zM280.49,208.14l3.10,3.10l-3.10,3.10l-3.10,-3.10zM281.73,204.55l3.10,3.10l-3.10,3.10l-3.10,-3.10zM282.49,205.66l3.10,3.10l-3.10,3.10l-3.10,-3.10zM282.14,204.98l3.10,3.10l-3.10,3.10l-3.10,-3.10zM283.21,207.11l3.10,3.10l-3.10,3.10l-3.10,-3.10zM283.75,209.01l3.10,3.10l-3.10,3.10l-3.10,-3.10zM283.80,201.26l3.10,3.10l-3.10,3.10l-3.10,-3.10zM284.70,205.53l3.10,3.10l-3.10,3.10l-3.10,-3.10zM285.64,198.67l3.10,3.10l-3.10,3.10l-3.10,-3.10zM286.02,202.97l3.10,3.10l-3.10,3.10l-3.10,-3.10zM286.80,200.32l3.10,3.10l-3.10,3.10l-3.10,-3.10zM286.52,204.73l3.10,3.10l-3.10,3.10l-3.10,-3.10zM287.19,200.66l3.10,3.10l-3.10,3.10l-3.10,-3.10zM288.06,198.07l3.10,3.10l-3.10,3.10l-3.10,-3.10zM288.62,197.37l3.10,3.10l-3.10,3.10l-3.10,-3.10zM289.08,196.10l3.10,3.10l-3.10,3.10l-3.10,-3.10zM289.50,196.25l3.10,3.10l-3.10,3.10l-3.10,-3.10zM290.04,194.52l3.10,3.10l-3.10,3.10l-3.10,-3.10zM290.53,194.73l3.10,3.10l-3.10,3.10l-3.10,-3.10zM291.40,195.00l3.10,3.10l-3.10,3.10l-3.10,-3.10zM290.99,192.28l3.10,3.10l-3.10,3.10l-3.10,-3.10zM292.85,187.65l3.10,3.10l-3.10,3.10l-3.10,-3.10zM292.76,185.55l3.10,3.10l-3.10,3.10l-3.10,-3.10zM293.04,185.55l3.10,3.10l-3.10,3.10l-3.10,-3.10zM294.18,187.07l3.10,3.10l-3.10,3.10l-3.10,-3.10zM294.14,183.09l3.10,3.10l-3.10,3.10l-3.10,-3.10zM295.23,180.83l3.10,3.10l-3.10,3.10l-3.10,-3.10zM295.54,180.43l3.10,3.10l-3.10,3.10l-3.10,-3.10zM296.39,175.92l3.10,3.10l-3.10,3.10l-3.10,-3.10zM297.00,174.39l3.10,3.10l-3.10,3.10l-3.10,-3.10zM297.70,175.05l3.10,3.10l-3.10,3.10l-3.10,-3.10zM297.71,171.36l3.10,3.10l-3.10,3.10l-3.10,-3.10zM298.33,168.61l3.10,3.10l-3.10,3.10l-3.10,-3.10zM298.96,167.08l3.10,3.10l-3.10,3.10l-3.10,-3.10zM299.09,162.22l3.10,3.10l-3.10,3.10l-3.10,-3.10zM300.24,158.37l3.10,3.10l-3.10,3.10l-3.10,-3.10zM300.65,154.90l3.10,3.10l-3.10,3.10l-3.10,-3.10zM300.76,152.81l3.10,3.10l-3.10,3.10l-3.10,-3.10zM302.07,148.14l3.10,3.10l-3.10,3.10l-3.10,-3.10zM302.67,142.54l3.10,3.10l-3.10,3.10l-3.10,-3.10zM302.42,140.86l3.10,3.10l-3.10,3.10l-3.10,-3.10zM303.53,139.39l3.10,3.10l-3.10,3.10l-3.10,-3.10zM304.29,138.29l3.10,3.10l-3.10,3.10l-3.10,-3.10zM304.71,129.72l3.10,3.10l-3.10,3.10l-3.10,-3.10zM304.72,128.31l3.10,3.10l-3.10,3.10l-3.10,-3.10zM305.14,122.59l3.10,3.10l-3.10,3.10l-3.10,-3.10zM306.08,119.15l3.10,3.10l-3.10,3.10l-3.10,-3.10zM306.51,113.08l3.10,3.10l-3.10,3.10l-3.10,-3.10zM307.21,109.48l3.10,3.10l-3.10,3.10l-3.10,-3.10zM307.73,102.33l3.10,3.10l-3.10,3.10l-3.10,-3.10zM308.47,95.33l3.10,3.10l-3.10,3.10l-3.10,-3.10zM308.69,90.87l3.10,3.10l-3.10,3.10l-3.10,-3.10zM309.36,88.42l3.10,3.10l-3.10,3.10l-3.10,-3.10zM310.85,84.53l3.10,3.10l-3.10,3.10l-3.10,-3.10zM310.47,84.06l3.10,3.10l-3.10,3.10l-3.10,-3.10zM311.28,78.88l3.10,3.10l-3.10,3.10l-3.10,-3.10zM311.70,70.15l3.10,3.10l-3.10,3.10l-3.10,-3.10zM312.22,69.06l3.10,3.10l-3.10,3.10l-3.10,-3.10zM312.43,62.82l3.10,3.10l-3.10,3.10l-3.10,-3.10zM313.42,59.01l3.10,3.10l-3.10,3.10l-3.10,-3.10zM313.79,59.99l3.10,3.10l-3.10,3.10l-3.10,-3.10zM314.60,56.81l3.10,3.10l-3.10,3.10l-3.10,-3.10zM315.52,51.56l3.10,3.10l-3.10,3.10l-3.10,-3.10zM315.51,53.84l3.10,3.10l-3.10,3.10l-3.10,-3.10zM316.24,47.24l3.10,3.10l-3.10,3.10l-3.10,-3.10zM316.25,44.98l3.10,3.10l-3.10,3.10l-3.10,-3.10zM317.14,46.45l3.10,3.10l-3.10,3.10l-3.10,-3.10zM318.12,44.47l3.10,3.10l-3.10,3.10l-3.10,-3.10zM318.19,42.69l3.10,3.10l-3.10,3.10l-3.10,-3.10zM318.57,41.80l3.10,3.10l-3.10,3.10l-3.10,-3.10zM319.37,41.41l3.10,3.10l-3.10,3.10l-3.10,-3.10zM319.80,40.16l3.10,3.10l-3.10,3.10l-3.10,-3.10zM320.33,39.81l3.10,3.10l-3.10,3.10l-3.10,-3.10zM320.85,37.19l3.10,3.10l-3.10,3.10l-3.10,-3.10zM322.10,39.24l3.10,3.10l-3.10,3.10l-3.10,-3.10zM321.80,44.26l3.10,3.10l-3.10,3.10l-3.10,-3.10zM322.48,44.10l3.10,3.10l-3.10,3.10l-3.10,-3.10zM322.99,48.52l3.10,3.10l-3.10,3.10l-3.10,-3.10zM324.08,53.34l3.10,3.10l-3.10,3.10l-3.10,-3.10zM324.17,54.87l3.10,3.10l-3.10,3.10l-3.10,-3.10zM325.20,59.53l3.10,3.10l-3.10,3.10l-3.10,-3.10zM325.41,65.75l3.10,3.10l-3.10,3.10l-3.10,-3.10zM325.90,66.50l3.10,3.10l-3.10,3.10l-3.10,-3.10zM326.02,71.72l3.10,3.10l-3.10,3.10l-3.10,-3.10zM327.37,74.73l3.10,3.10l-3.10,3.10l-3.10,-3.10zM327.72,77.11l3.10,3.10l-3.10,3.10l-3.10,-3.10zM328.23,79.46l3.10,3.10l-3.10,3.10l-3.10,-3.10zM328.62,82.10l3.10,3.10l-3.10,3.10l-3.10,-3.10zM329.08,85.64l3.10,3.10l-3.10,3.10l-3.10,-3.10zM329.38,92.53l3.10,3.10l-3.10,3.10l-3.10,-3.10zM330.59,96.51l3.10,3.10l-3.10,3.10l-3.10,-3.10zM330.94,98.92l3.10,3.10l-3.10,3.10l-3.10,-3.10zM331.30,103.77l3.10,3.10l-3.10,3.10l-3.10,-3.10zM331.77,104.61l3.10,3.10l-3.10,3.10l-3.10,-3.10zM332.54,111.64l3.10,3.10l-3.10,3.10l-3.10,-3.10zM333.03,115.74l3.10,3.10l-3.10,3.10l-3.10,-3.10zM334.10,122.52l3.10,3.10l-3.10,3.10l-3.10,-3.10zM334.39,128.95l3.10,3.10l-3.10,3.10l-3.10,-3.10zM334.53,133.70l3.10,3.10l-3.10,3.10l-3.10,-3.10zM334.92,142.43l3.10,3.10l-3.10,3.10l-3.10,-3.10zM335.74,139.42l3.10,3.10l-3.10,3.10l-3.10,-3.10zM336.08,146.21l3.10,3.10l-3.10,3.10l-3.10,-3.10zM336.93,151.71l3.10,3.10l-3.10,3.10l-3.10,-3.10zM337.58,154.60l3.10,3.10l-3.10,3.10l-3.10,-3.10zM338.20,156.86l3.10,3.10l-3.10,3.10l-3.10,-3.10zM338.68,164.40l3.10,3.10l-3.10,3.10l-3.10,-3.10zM339.05,163.71l3.10,3.10l-3.10,3.10l-3.10,-3.10zM339.84,167.41l3.10,3.10l-3.10,3.10l-3.10,-3.10zM339.94,174.73l3.10,3.10l-3.10,3.10l-3.10,-3.10zM340.73,175.47l3.10,3.10l-3.10,3.10l-3.10,-3.10zM341.55,178.14l3.10,3.10l-3.10,3.10l-3.10,-3.10zM341.94,188.12l3.10,3.10l-3.10,3.10l-3.10,-3.10zM342.03,192.49l3.10,3.10l-3.10,3.10l-3.10,-3.10zM342.61,197.00l3.10,3.10l-3.10,3.10l-3.10,-3.10zM343.02,199.30l3.10,3.10l-3.10,3.10l-3.10,-3.10zM344.60,204.47l3.10,3.10l-3.10,3.10l-3.10,-3.10zM344.14,206.07l3.10,3.10l-3.10,3.10l-3.10,-3.10zM345.12,213.87l3.10,3.10l-3.10,3.10l-3.10,-3.10zM346.26,215.43l3.10,3.10l-3.10,3.10l-3.10,-3.10zM346.58,218.73l3.10,3.10l-3.10,3.10l-3.10,-3.10zM347.20,217.95l3.10,3.10l-3.10,3.10l-3.10,-3.10zM347.21,226.69l3.10,3.10l-3.10,3.10l-3.10,-3.10zM348.13,232.01l3.10,3.10l-3.10,3.10l-3.10,-3.10zM349.37,235.61l3.10,3.10l-3.10,3.10l-3.10,-3.10zM349.00,238.97l3.10,3.10l-3.10,3.10l-3.10,-3.10zM349.68,241.84l3.10,3.10l-3.10,3.10l-3.10,-3.10zM350.02,245.22l3.10,3.10l-3.10,3.10l-3.10,-3.10zM350.66,250.16l3.10,3.10l-3.10,3.10l-3.10,-3.10zM351.32,252.44l3.10,3.10l-3.10,3.10l-3.10,-3.10zM352.18,254.51l3.10,3.10l-3.10,3.10l-3.10,-3.10zM352.04,255.63l3.10,3.10l-3.10,3.10l-3.10,-3.10zM352.43,260.89l3.10,3.10l-3.10,3.10l-3.10,-3.10zM353.42,257.83l3.10,3.10l-3.10,3.10l-3.10,-3.10zM354.02,261.54l3.10,3.10l-3.10,3.10l-3.10,-3.10zM354.93,262.42l3.10,3.10l-3.10,3.10l-3.10,-3.10zM355.28,267.14l3.10,3.10l-3.10,3.10l-3.10,-3.10zM355.42,270.01l3.10,3.10l-3.10,3.10l-3.10,-3.10zM356.33,272.23l3.10,3.10l-3.10,3.10l-3.10,-3.10zM357.05,274.45l3.10,3.10l-3.10,3.10l-3.10,-3.10zM357.35,274.13l3.10,3.10l-3.10,3.10l-3.10,-3.10zM357.71,283.41l3.10,3.10l-3.10,3.10l-3.10,-3.10zM358.56,283.84l3.10,3.10l-3.10,3.10l-3.10,-3.10zM358.80,285.33l3.10,3.10l-3.10,3.10l-3.10,-3.10zM358.90,287.76l3.10,3.10l-3.10,3.10l-3.10,-3.10zM360.41,289.19l3.10,3.10l-3.10,3.10l-3.10,-3.10zM360.17,292.40l3.10,3.10l-3.10,3.10l-3.10,-3.10zM361.01,294.00l3.10,3.10l-3.10,3.10l-3.10,-3.10zM361.57,294.56l3.10,3.10l-3.10,3.10l-3.10,-3.10zM362.11,292.43l3.10,3.10l-3.10,3.10l-3.10,-3.10zM362.67,298.31l3.10,3.10l-3.10,3.10l-3.10,-3.10zM362.88,300.71l3.10,3.10l-3.10,3.10l-3.10,-3.10zM364.02,302.31l3.10,3.10l-3.10,3.10l-3.10,-3.10zM364.42,302.65l3.10,3.10l-3.10,3.10l-3.10,-3.10zM364.97,305.15l3.10,3.10l-3.10,3.10l-3.10,-3.10zM365.83,307.56l3.10,3.10l-3.10,3.10l-3.10,-3.10zM366.39,306.40l3.10,3.10l-3.10,3.10l-3.10,-3.10zM367.01,311.03l3.10,3.10l-3.10,3.10l-3.10,-3.10zM367.71,306.49l3.10,3.10l-3.10,3.10l-3.10,-3.10zM367.84,308.89l3.10,3.10l-3.10,3.10l-3.10,-3.10zM367.80,310.64l3.10,3.10l-3.10,3.10l-3.10,-3.10zM368.87,309.08l3.10,3.10l-3.10,3.10l-3.10,-3.10zM369.36,312.52l3.10,3.10l-3.10,3.10l-3.10,-3.10zM369.93,317.25l3.10,3.10l-3.10,3.10l-3.10,-3.10zM370.28,318.12l3.10,3.10l-3.10,3.10l-3.10,-3.10zM370.74,317.02l3.10,3.10l-3.10,3.10l-3.10,-3.10zM371.80,320.61l3.10,3.10l-3.10,3.10l-3.10,-3.10zM372.40,318.89l3.10,3.10l-3.10,3.10l-3.10,-3.10zM372.32,318.41l3.10,3.10l-3.10,3.10l-3.10,-3.10zM373.37,320.41l3.10,3.10l-3.10,3.10l-3.10,-3.10zM373.71,320.49l3.10,3.10l-3.10,3.10l-3.10,-3.10zM374.19,322.67l3.10,3.10l-3.10,3.10l-3.10,-3.10zM375.06,319.55l3.10,3.10l-3.10,3.10l-3.10,-3.10zM375.39,324.46l3.10,3.10l-3.10,3.10l-3.10,-3.10zM375.79,322.61l3.10,3.10l-3.10,3.10l-3.10,-3.10zM376.52,325.46l3.10,3.10l-3.10,3.10l-3.10,-3.10zM376.46,321.98l3.10,3.10l-3.10,3.10l-3.10,-3.10zM377.43,324.47l3.10,3.10l-3.10,3.10l-3.10,-3.10zM378.03,325.87l3.10,3.10l-3.10,3.10l-3.10,-3.10zM378.29,327.82l3.10,3.10l-3.10,3.10l-3.10,-3.10zM379.31,324.74l3.10,3.10l-3.10,3.10l-3.10,-3.10zM379.89,330.16l3.10,3.10l-3.10,3.10l-3.10,-3.10zM380.18,328.65l3.10,3.10l-3.10,3.10l-3.10,-3.10zM380.85,327.42l3.10,3.10l-3.10,3.10l-3.10,-3.10zM381.66,330.86l3.10,3.10l-3.10,3.10l-3.10,-3.10zM382.32,329.44l3.10,3.10l-3.10,3.10l-3.10,-3.10zM382.33,331.69l3.10,3.10l-3.10,3.10l-3.10,-3.10zM383.21,334.12l3.10,3.10l-3.10,3.10l-3.10,-3.10zM383.97,331.92l3.10,3.10l-3.10,3.10l-3.10,-3.10zM384.19,330.15l3.10,3.10l-3.10,3.10l-3.10,-3.10zM384.52,330.74l3.10,3.10l-3.10,3.10l-3.10,-3.10zM385.07,332.87l3.10,3.10l-3.10,3.10l-3.10,-3.10zM385.76,332.77l3.10,3.10l-3.10,3.10l-3.10,-3.10zM386.09,331.26l3.10,3.10l-3.10,3.10l-3.10,-3.10zM387.56,331.93l3.10,3.10l-3.10,3.10l-3.10,-3.10zM387.33,334.57l3.10,3.10l-3.10,3.10l-3.10,-3.10zM388.17,337.79l3.10,3.10l-3.10,3.10l-3.10,-3.10zM388.66,329.69l3.10,3.10l-3.10,3.10l-3.10,-3.10zM389.34,335.75l3.10,3.10l-3.10,3.10l-3.10,-3.10zM389.59,334.50l3.10,3.10l-3.10,3.10l-3.10,-3.10zM389.86,336.52l3.10,3.10l-3.10,3.10l-3.10,-3.10zM391.29,336.99l3.10,3.10l-3.10,3.10l-3.10,-3.10zM391.33,335.92l3.10,3.10l-3.10,3.10l-3.10,-3.10zM391.94,334.42l3.10,3.10l-3.10,3.10l-3.10,-3.10zM392.51,334.07l3.10,3.10l-3.10,3.10l-3.10,-3.10zM393.38,333.55l3.10,3.10l-3.10,3.10l-3.10,-3.10zM393.78,339.10l3.10,3.10l-3.10,3.10l-3.10,-3.10zM394.45,336.95l3.10,3.10l-3.10,3.10l-3.10,-3.10zM394.90,336.66l3.10,3.10l-3.10,3.10l-3.10,-3.10zM395.25,337.36l3.10,3.10l-3.10,3.10l-3.10,-3.10zM395.83,335.82l3.10,3.10l-3.10,3.10l-3.10,-3.10zM396.08,338.86l3.10,3.10l-3.10,3.10l-3.10,-3.10zM396.27,340.83l3.10,3.10l-3.10,3.10l-3.10,-3.10zM397.33,340.76l3.10,3.10l-3.10,3.10l-3.10,-3.10zM397.63,336.39l3.10,3.10l-3.10,3.10l-3.10,-3.10zM399.28,341.60l3.10,3.10l-3.10,3.10l-3.10,-3.10zM399.52,338.20l3.10,3.10l-3.10,3.10l-3.10,-3.10zM399.95,336.47l3.10,3.10l-3.10,3.10l-3.10,-3.10zM399.99,337.85l3.10,3.10l-3.10,3.10l-3.10,-3.10zM401.32,338.50l3.10,3.10l-3.10,3.10l-3.10,-3.10zM400.74,340.34l3.10,3.10l-3.10,3.10l-3.10,-3.10zM401.44,338.81l3.10,3.10l-3.10,3.10l-3.10,-3.10zM402.12,338.20l3.10,3.10l-3.10,3.10l-3.10,-3.10zM402.61,340.52l3.10,3.10l-3.10,3.10l-3.10,-3.10zM403.49,344.44l3.10,3.10l-3.10,3.10l-3.10,-3.10zM404.06,340.18l3.10,3.10l-3.10,3.10l-3.10,-3.10zM405.12,342.36l3.10,3.10l-3.10,3.10l-3.10,-3.10zM405.40,341.91l3.10,3.10l-3.10,3.10l-3.10,-3.10zM406.02,346.49l3.10,3.10l-3.10,3.10l-3.10,-3.10zM406.33,338.95l3.10,3.10l-3.10,3.10l-3.10,-3.10zM406.71,344.24l3.10,3.10l-3.10,3.10l-3.10,-3.10zM407.09,340.41l3.10,3.10l-3.10,3.10l-3.10,-3.10zM407.40,341.78l3.10,3.10l-3.10,3.10l-3.10,-3.10zM408.14,342.83l3.10,3.10l-3.10,3.10l-3.10,-3.10zM408.84,348.61l3.10,3.10l-3.10,3.10l-3.10,-3.10zM409.73,342.10l3.10,3.10l-3.10,3.10l-3.10,-3.10zM409.54,340.39l3.10,3.10l-3.10,3.10l-3.10,-3.10zM410.19,346.01l3.10,3.10l-3.10,3.10l-3.10,-3.10zM411.22,342.57l3.10,3.10l-3.10,3.10l-3.10,-3.10zM411.39,343.78l3.10,3.10l-3.10,3.10l-3.10,-3.10zM412.35,344.35l3.10,3.10l-3.10,3.10l-3.10,-3.10zM412.68,344.75l3.10,3.10l-3.10,3.10l-3.10,-3.10zM413.12,344.49l3.10,3.10l-3.10,3.10l-3.10,-3.10zM413.50,345.43l3.10,3.10l-3.10,3.10l-3.10,-3.10zM414.42,345.82l3.10,3.10l-3.10,3.10l-3.10,-3.10zM414.78,346.80l3.10,3.10l-3.10,3.10l-3.10,-3.10zM415.37,344.81l3.10,3.10l-3.10,3.10l-3.10,-3.10zM415.91,344.45l3.10,3.10l-3.10,3.10l-3.10,-3.10zM416.71,344.09l3.10,3.10l-3.10,3.10l-3.10,-3.10zM417.24,347.09l3.10,3.10l-3.10,3.10l-3.10,-3.10zM417.24,346.18l3.10,3.10l-3.10,3.10l-3.10,-3.10zM418.25,347.37l3.10,3.10l-3.10,3.10l-3.10,-3.10zM418.97,347.51l3.10,3.10l-3.10,3.10l-3.10,-3.10zM419.71,349.63l3.10,3.10l-3.10,3.10l-3.10,-3.10zM420.18,347.28l3.10,3.10l-3.10,3.10l-3.10,-3.10zM420.56,348.37l3.10,3.10l-3.10,3.10l-3.10,-3.10zM420.71,345.20l3.10,3.10l-3.10,3.10l-3.10,-3.10zM421.37,345.57l3.10,3.10l-3.10,3.10l-3.10,-3.10zM422.42,347.03l3.10,3.10l-3.10,3.10l-3.10,-3.10zM422.49,345.65l3.10,3.10l-3.10,3.10l-3.10,-3.10zM423.56,349.04l3.10,3.10l-3.10,3.10l-3.10,-3.10zM424.18,345.75l3.10,3.10l-3.10,3.10l-3.10,-3.10zM424.03,348.28l3.10,3.10l-3.10,3.10l-3.10,-3.10zM425.03,344.14l3.10,3.10l-3.10,3.10l-3.10,-3.10zM425.42,346.58l3.10,3.10l-3.10,3.10l-3.10,-3.10zM426.61,348.03l3.10,3.10l-3.10,3.10l-3.10,-3.10zM426.80,348.31l3.10,3.10l-3.10,3.10l-3.10,-3.10zM426.95,345.84l3.10,3.10l-3.10,3.10l-3.10,-3.10zM427.77,349.21l3.10,3.10l-3.10,3.10l-3.10,-3.10zM427.92,350.82l3.10,3.10l-3.10,3.10l-3.10,-3.10zM428.70,350.40l3.10,3.10l-3.10,3.10l-3.10,-3.10zM429.36,348.31l3.10,3.10l-3.10,3.10l-3.10,-3.10zM429.89,348.56l3.10,3.10l-3.10,3.10l-3.10,-3.10zM430.49,347.67l3.10,3.10l-3.10,3.10l-3.10,-3.10zM430.68,350.89l3.10,3.10l-3.10,3.10l-3.10,-3.10zM430.94,352.39l3.10,3.10l-3.10,3.10l-3.10,-3.10zM431.94,349.17l3.10,3.10l-3.10,3.10l-3.10,-3.10zM432.33,347.30l3.10,3.10l-3.10,3.10l-3.10,-3.10zM432.94,350.64l3.10,3.10l-3.10,3.10l-3.10,-3.10zM434.34,351.62l3.10,3.10l-3.10,3.10l-3.10,-3.10zM434.60,345.91l3.10,3.10l-3.10,3.10l-3.10,-3.10zM434.75,350.88l3.10,3.10l-3.10,3.10l-3.10,-3.10zM434.92,354.44l3.10,3.10l-3.10,3.10l-3.10,-3.10zM435.51,352.27l3.10,3.10l-3.10,3.10l-3.10,-3.10zM436.56,351.92l3.10,3.10l-3.10,3.10l-3.10,-3.10zM437.32,351.78l3.10,3.10l-3.10,3.10l-3.10,-3.10zM437.46,353.00l3.10,3.10l-3.10,3.10l-3.10,-3.10zM438.14,349.70l3.10,3.10l-3.10,3.10l-3.10,-3.10zM438.73,349.97l3.10,3.10l-3.10,3.10l-3.10,-3.10zM439.52,352.21l3.10,3.10l-3.10,3.10l-3.10,-3.10zM439.19,350.45l3.10,3.10l-3.10,3.10l-3.10,-3.10zM440.35,352.15l3.10,3.10l-3.10,3.10l-3.10,-3.10zM440.97,348.56l3.10,3.10l-3.10,3.10l-3.10,-3.10zM441.69,353.20l3.10,3.10l-3.10,3.10l-3.10,-3.10zM442.07,353.45l3.10,3.10l-3.10,3.10l-3.10,-3.10zM442.17,352.17l3.10,3.10l-3.10,3.10l-3.10,-3.10zM442.88,352.47l3.10,3.10l-3.10,3.10l-3.10,-3.10zM443.14,355.04l3.10,3.10l-3.10,3.10l-3.10,-3.10zM444.21,350.53l3.10,3.10l-3.10,3.10l-3.10,-3.10zM444.76,350.90l3.10,3.10l-3.10,3.10l-3.10,-3.10zM445.40,350.68l3.10,3.10l-3.10,3.10l-3.10,-3.10zM445.51,351.90l3.10,3.10l-3.10,3.10l-3.10,-3.10zM446.01,350.99l3.10,3.10l-3.10,3.10l-3.10,-3.10zM447.36,352.85l3.10,3.10l-3.10,3.10l-3.10,-3.10z" fill="#4F81BD" stroke="none"/>
<path d="M170.50,356.69 L171.50,356.68 L172.50,356.68 L173.50,356.66 L174.50,356.65 L175.50,356.63 L176.50,356.59 L177.50,356.55 L178.50,356.48 L179.50,356.39 L180.50,356.27 L181.50,356.11 L182.50,355.89 L183.50,355.61 L184.50,355.23 L185.50,354.74 L186.50,354.10 L187.50,353.29 L188.50,352.27 L189.50,350.99 L190.50,349.41 L191.50,347.46 L192.50,345.10 L193.50,342.25 L194.50,338.85 L195.50,334.85 L196.50,330.18 L197.50,324.78 L198.50,318.62 L199.50,311.65 L200.50,303.86 L201.50,295.26 L202.50,285.86 L203.50,275.72 L204.50,264.93 L205.50,253.58 L206.50,241.81 L207.50,229.80 L208.50,217.73 L209.50,205.80 L210.50,194.26 L211.50,183.32 L212.50,173.23 L213.50,164.20 L214.50,156.46 L215.50,150.19 L216.50,145.53 L217.50,142.61 L218.50,141.51 L219.50,142.25 L220.50,144.80 L221.50,149.12 L222.50,155.08 L223.50,162.55 L224.50,171.33 L225.50,181.23 L226.50,192.01 L227.50,203.46 L228.50,215.32 L229.50,227.38 L230.50,239.42 L231.50,251.25 L232.50,262.70 L233.50,273.61 L234.50,283.89 L235.50,293.44 L236.50,302.21 L237.50,310.16 L238.50,317.29 L239.50,323.61 L240.50,329.16 L241.50,333.97 L242.50,338.10 L243.50,341.61 L244.50,344.57 L245.50,347.02 L246.50,349.05 L247.50,350.70 L248.50,352.04 L249.50,353.11 L250.50,353.96 L251.50,354.62 L252.50,355.14 L253.50,355.54 L254.50,355.84 L255.50,356.07 L256.50,356.24 L257.50,356.37 L258.50,356.47 L259.50,356.53 L260.50,356.58 L261.50,356.62 L262.50,356.64 L263.50,356.66 L264.50,356.67 L265.50,356.68 L266.50,356.69 L267.50,356.69 L268.50,356.70 L269.25,356.70" stroke="#C00000" />
<path d="M210.00,356.70 L211.00,356.70 L212.00,356.70 L213.00,356.70 L214.00,356.69 L215.00,356.69 L216.00,356.68 L217.00,356.68 L218.00,356.66 L219.00,356.65 L220.00,356.62 L221.00,356.59 L222.00,356.54 L223.00,356.48 L224.00,356.39 L225.00,356.28 L226.00,356.13 L227.00,355.93 L228.00,355.67 L229.00,355.35 L230.00,354.94 L231.00,354.43 L232.00,353.81 L233.00,353.06 L234.00,352.17 L235.00,351.12 L236.00,349.90 L237.00,348.51 L238.00,346.94 L239.00,345.20 L240.00,343.30 L241.00,341.26 L242.00,339.10 L243.00,336.87 L244.00,334.59 L245.00,332.33 L246.00,330.13 L247.00,328.05 L248.00,326.15 L249.00,324.48 L250.00,323.09 L251.00,322.03 L252.00,321.33 L253.00,321.02 L254.00,321.10 L255.00,321.57 L256.00,322.41 L257.00,323.61 L258.00,325.11 L259.00,326.88 L260.00,328.86 L261.00,331.00 L262.00,333.23 L263.00,335.50 L264.00,337.77 L265.00,339.98 L266.00,342.09 L267.00,344.08 L268.00,345.92 L269.00,347.59 L270.00,349.09 L271.00,350.41 L272.00,351.56 L273.00,352.54 L274.00,353.38 L275.00,354.07 L276.00,354.64 L277.00,355.11 L278.00,355.48 L279.00,355.78 L280.00,356.01 L281.00,356.19 L282.00,356.33 L283.00,356.43 L284.00,356.51 L285.00,356.56 L286.00,356.60 L287.00,356.63 L288.00,356.65 L289.00,356.67 L290.00,356.68 L291.00,356.69 L292.00,356.69 L293.00,356.69 L294.00,356.70 L295.00,356.70 L296.00,356.70 L297.00,356.70 L298.00,356.70 L298.88,356.70" stroke="#00B050" />
<path d="M261.35,356.62 L262.35,356.59 L263.35,356.56 L264.35,356.52 L265.35,356.47 L266.35,356.41 L267.35,356.33 L268.35,356.23 L269.35,356.11 L270.35,355.96 L271.35,355.77 L272.35,355.55 L273.35,355.28 L274.35,354.96 L275.35,354.56 L276.35,354.09 L277.35,353.54 L278.35,352.87 L279.35,352.10 L280.35,351.18 L281.35,350.11 L282.35,348.87 L283.35,347.44 L284.35,345.79 L285.35,343.91 L286.35,341.76 L287.35,339.33 L288.35,336.58 L289.35,333.51 L290.35,330.08 L291.35,326.28 L292.35,322.08 L293.35,317.48 L294.35,312.46 L295.35,307.00 L296.35,301.12 L297.35,294.81 L298.35,288.08 L299.35,280.95 L300.35,273.43 L301.35,265.57 L302.35,257.39 L303.35,248.95 L304.35,240.30 L305.35,231.49 L306.35,222.60 L307.35,213.70 L308.35,204.86 L309.35,196.18 L310.35,187.73 L311.35,179.60 L312.35,171.89 L313.35,164.67 L314.35,158.04 L315.35,152.06 L316.35,146.81 L317.35,142.36 L318.35,138.76 L319.35,136.05 L320.35,134.28 L321.35,133.46 L322.35,133.60 L323.35,134.71 L324.35,136.77 L325.35,139.75 L326.35,143.61 L327.35,148.31 L328.35,153.78 L329.35,159.96 L330.35,166.78 L331.35,174.16 L332.35,182.00 L333.35,190.23 L334.35,198.76 L335.35,207.50 L336.35,216.36 L337.35,225.27 L338.35,234.14 L339.35,242.91 L340.35,251.51 L341.35,259.88 L342.35,267.96 L343.35,275.72 L344.35,283.13 L345.35,290.14 L346.35,296.75 L347.35,302.93 L348.35,308.69 L349.35,314.01 L350.35,318.91 L351.35,323.39 L352.35,327.46 L353.35,331.15 L354.35,334.47 L355.35,337.44 L356.35,340.09 L357.35,342.43 L358.35,344.50 L359.35,346.31 L360.35,347.89 L361.35,349.26 L362.35,350.45 L363.35,351.47 L364.35,352.34 L365.35,353.08 L366.35,353.71 L367.35,354.24 L368.35,354.69 L369.35,355.06 L370.35,355.37 L371.35,355.62 L372.35,355.83 L373.35,356.01 L374.35,356.15 L375.35,356.26 L376.35,356.35 L377.35,356.43 L378.35,356.48 L379.35,356.53 L380.35,356.57 L381.35,356.60 L382.35,356.62 L383.35,356.64 L384.35,356.65 L385.35,356.67 L386.35,356.67 L387.35,356.68 L387.75,356.68" stroke="#00B0F0" />
<path d="M609.60,352.41 L610.60,352.30 L611.60,352.18 L612.60,352.07 L613.60,351.94 L614.60,351.82 L615.60,351.69 L616.60,351.56 L617.60,351.42 L618.60,351.28 L619.60,351.13 L620.60,350.98 L621.60,350.83 L622.60,350.67 L623.60,350.51 L624.60,350.34 L625.60,350.17 L626.60,349.99 L627.60,349.81 L628.60,349.62 L629.60,349.43 L630.60,349.23 L631.60,349.02 L632.60,348.82 L633.60,348.60 L634.60,348.38 L635.60,348.15 L636.60,347.92 L637.60,347.68 L638.60,347.43 L639.60,347.18 L640.60,346.92 L641.60,346.66 L642.60,346.39 L643.60,346.11 L644.60,345.82 L645.60,345.53 L646.60,345.23 L647.60,344.93 L648.60,344.61 L649.60,344.29 L650.60,343.96 L651.60,343.62 L652.60,343.28 L653.60,342.93 L654.60,342.57 L655.60,342.20 L656.60,341.82 L657.60,341.44 L658.60,341.04 L659.60,340.64 L660.60,340.23 L661.60,339.81 L662.60,339.38 L663.60,338.95 L664.60,338.50 L665.60,338.04 L666.60,337.58 L667.60,337.11 L668.60,336.63 L669.60,336.13 L670.60,335.63 L671.60,335.12 L672.60,334.60 L673.60,334.07 L674.60,333.53 L675.60,332.98 L676.60,332.42 L677.60,331.85 L678.60,331.28 L679.60,330.69 L680.60,330.09 L681.60,329.48 L682.60,328.86 L683.60,328.23 L684.60,327.60 L685.60,326.95 L686.60,326.29 L687.60,325.62 L688.60,324.94 L689.60,324.25 L690.60,323.55 L691.60,322.85 L692.60,322.13 L693.60,321.40 L694.60,320.66 L695.60,319.91 L696.60,319.16 L697.60,318.39 L698.60,317.61 L699.60,316.83 L700.60,316.03 L701.60,315.23 L702.60,314.41 L703.60,313.59 L704.60,312.75 L705.60,311.91 L706.60,311.06 L707.60,310.20 L708.60,309.34 L709.60,308.46 L710.60,307.58 L711.60,306.68 L712.60,305.78 L713.60,304.87 L714.60,303.96 L715.60,303.04 L716.60,302.10 L717.60,301.17 L718.60,300.22 L719.60,299.27 L720.60,298.31 L721.60,297.35 L722.60,296.38 L723.60,295.41 L724.60,294.43 L725.60,293.44 L726.60,292.45 L727.60,291.46 L728.60,290.46 L729.60,289.45 L730.60,288.45 L731.60,287.43 L732.60,286.42 L733.60,285.40 L734.60,284.39 L735.60,283.36 L736.60,282.34 L737.60,281.32 L738.60,280.29 L739.60,279.26 L740.60,278.24 L741.60,277.21 L742.60,276.18 L743.60,275.15 L744.60,274.13 L745.60,273.10 L746.60,272.08 L747.60,271.06 L748.60,270.04 L749.60,269.03 L750.60,268.02 L751.60,267.01 L752.60,266.00 L753.60,265.00 L754.60,264.01 L755.60,263.02 L756.60,262.03 L757.60,261.06 L758.60,260.08 L759.60,259.12 L760.60,258.16 L761.60,257.21 L762.60,256.27 L763.60,255.34 L764.60,254.41 L765.60,253.50 L766.60,252.59 L767.60,251.70 L768.60,250.82 L769.60,249.94 L770.60,249.08 L771.60,248.23 L772.60,247.39 L773.60,246.57 L774.60,245.75 L775.60,244.96 L776.60,244.17 L777.60,243.40 L778.60,242.64 L779.60,241.90 L780.60,241.17 L781.60,240.46 L782.60,239.76 L783.60,239.08 L784.60,238.42 L785.60,237.78 L786.60,237.15 L787.60,236.54 L788.60,235.94 L789.60,235.37 L790.60,234.81 L791.60,234.27 L792.60,233.75 L793.60,233.25 L794.60,232.77 L795.60,232.31 L796.60,231.87 L797.60,231.45 L798.60,231.04 L799.60,230.66 L800.60,230.31 L801.60,229.97 L802.60,229.65 L803.60,229.35 L804.60,229.08 L805.60,228.83 L806.60,228.59 L807.60,228.39 L808.60,228.20 L809.60,228.03 L810.60,227.89 L811.60,227.77 L812.60,227.67 L813.60,227.59 L814.60,227.54 L815.60,227.51 L816.60,227.50 L817.60,227.51 L818.60,227.55 L819.60,227.61 L820.60,227.69 L821.60,227.79 L822.60,227.92 L823.60,228.06 L824.60,228.23 L825.60,228.43 L826.60,228.64 L827.60,228.87 L828.60,229.13 L829.60,229.41 L830.60,229.71 L831.60,230.03 L832.60,230.38 L833.60,230.74 L834.60,231.12 L835.60,231.53 L836.60,231.95 L837.60,232.40 L838.60,232.86 L839.60,233.35 L840.60,233.85 L841.60,234.38 L842.60,234.92 L843.60,235.48 L844.60,236.06 L845.60,236.66 L846.60,237.27 L847.60,237.90 L848.60,238.55 L849.60,239.22 L850.60,239.90 L851.60,240.60 L852.60,241.32 L853.60,242.05 L854.60,242.79 L855.60,243.55 L856.60,244.33 L857.60,245.11 L858.60,245.92 L859.60,246.73 L860.60,247.56 L861.60,248.40 L862.60,249.25 L863.60,250.12 L864.60,250.99 L865.60,251.88 L866.60,252.77 L867.60,253.68 L868.60,254.60 L869.60,255.52 L870.60,256.46 L871.60,257.40 L872.60,258.35 L873.60,259.31 L874.60,260.28 L875.60,261.25 L876.60,262.23 L877.60,263.22 L878.60,264.21 L879.60,265.20 L880.60,266.20 L881.60,267.21 L882.60,268.22 L883.60,269.23 L884.60,270.25 L885.60,271.26 L886.60,272.29 L887.60,273.31 L888.60,274.33 L889.60,275.36 L890.60,276.39 L891.60,277.41 L892.60,278.44 L893.60,279.47 L894.60,280.50 L895.60,281.52 L896.60,282.55 L897.60,283.57 L898.60,284.59 L899.60,285.61 L900.60,286.62 L901.60,287.64 L902.60,288.65 L903.60,289.65 L904.60,290.66 L905.60,291.65 L906.60,292.65 L907.60,293.64 L908.60,294.62 L909.60,295.60 L910.60,296.58 L911.60,297.54 L912.60,298.51 L913.60,299.46 L914.60,300.41 L915.60,301.36 L916.60,302.29 L917.60,303.22 L918.60,304.14 L919.60,305.06 L920.60,305.96 L921.60,306.86 L922.60,307.75 L923.60,308.64 L924.60,309.51 L925.60,310.38 L926.60,311.23 L927.60,312.08 L928.60,312.92 L929.60,313.75 L930.60,314.57 L931.60,315.39 L932.60,316.19 L933.60,316.98 L934.60,317.77 L935.60,318.54 L936.60,319.31 L937.60,320.06 L938.60,320.81 L939.60,321.55 L940.60,322.27 L941.60,322.99 L942.60,323.70 L943.60,324.39 L944.60,325.08 L945.60,325.75 L946.60,326.42 L947.60,327.08 L948.60,327.72 L949.60,328.36 L950.60,328.99 L951.60,329.60 L952.60,330.21 L953.60,330.81 L954.60,331.39 L955.60,331.97 L956.60,332.54 L957.60,333.09 L958.60,333.64 L959.60,334.18 L960.60,334.71 L961.60,335.22 L962.60,335.73 L963.60,336.23 L964.60,336.72 L965.60,337.20 L966.60,337.67 L967.60,338.14 L968.60,338.59 L969.60,339.03 L970.60,339.47 L971.60,339.89 L972.60,340.31 L973.60,340.72 L974.60,341.12 L975.60,341.51 L976.60,341.90 L977.60,342.27 L978.60,342.64 L979.60,343.00 L980.60,343.35 L981.60,343.69 L982.60,344.03 L983.60,344.35 L984.60,344.67 L985.60,344.99 L986.60,345.29 L987.60,345.59 L988.60,345.88 L989.60,346.17 L990.60,346.44 L991.60,346.71 L992.60,346.98 L993.60,347.23 L994.60,347.48 L995.60,347.73 L996.60,347.97 L997.60,348.20 L998.60,348.42 L999.60,348.64 L1000.60,348.86 L1001.60,349.07 L1002.60,349.27 L1003.60,349.47 L1004.60,349.66" stroke="#7030A0" />
<path d="M610.02,348.14l3.10,3.10l-3.10,3.10l-3.10,-3.10zM608.07,347.33l3.10,3.10l-3.10,3.10l-3.10,-3.10zM609.26,347.33l3.10,3.10l-3.10,3.10l-3.10,-3.10zM608.81,353.21l3.10,3.10l-3.10,3.10l-3.10,-3.10zM609.40,349.79l3.10,3.10l-3.10,3.10l-3.10,-3.10zM613.92,343.52l3.10,3.10l-3.10,3.10l-3.10,-3.10zM611.78,346.32l3.10,3.10l-3.10,3.10l-3.10,-3.10zM613.98,344.36l3.10,3.10l-3.10,3.10l-3.10,-3.10zM612.35,348.43l3.10,3.10l-3.10,3.10l-3.10,-3.10zM614.03,346.49l3.10,3.10l-3.10,3.10l-3.10,-3.10zM613.03,344.62l3.10,3.10l-3.10,3.10l-3.10,-3.10zM616.15,343.45l3.10,3.10l-3.10,3.10l-3.10,-3.10zM615.04,345.38l3.10,3.10l-3.10,3.10l-3.10,-3.10zM615.21,350.06l3.10,3.10l-3.10,3.10l-3.10,-3.10zM616.07,346.24l3.10,3.10l-3.10,3.10l-3.10,-3.10zM619.78,347.92l3.10,3.10l-3.10,3.10l-3.10,-3.10zM617.82,349.80l3.10,3.10l-3.10,3.10l-3.10,-3.10zM618.81,356.83l3.10,3.10l-3.10,3.10l-3.10,-3.10zM616.36,350.48l3.10,3.10l-3.10,3.10l-3.10,-3.10zM617.64,336.28l3.10,3.10l-3.10,3.10l-3.10,-3.10zM619.41,343.92l3.10,3.10l-3.10,3.10l-3.10,-3.10zM616.86,345.27l3.10,3.10l-3.10,3.10l-3.10,-3.10zM621.76,346.72l3.10,3.10l-3.10,3.10l-3.10,-3.10zM620.72,353.06l3.10,3.10l-3.10,3.10l-3.10,-3.10zM620.77,348.96l3.10,3.10l-3.10,3.10l-3.10,-3.10zM620.97,339.34l3.10,3.10l-3.10,3.10l-3.10,-3.10zM621.37,347.52l3.10,3.10l-3.10,3.10l-3.10,-3.10zM621.44,346.24l3.10,3.10l-3.10,3.10l-3.10,-3.10zM624.54,348.30l3.10,3.10l-3.10,3.10l-3.10,-3.10zM624.00,353.01l3.10,3.10l-3.10,3.10l-3.10,-3.10zM625.23,343.87l3.10,3.10l-3.10,3.10l-3.10,-3.10zM623.52,352.34l3.10,3.10l-3.10,3.10l-3.10,-3.10zM623.17,343.82l3.10,3.10l-3.10,3.10l-3.10,-3.10zM626.74,351.40l3.10,3.10l-3.10,3.10l-3.10,-3.10zM623.60,351.23l3.10,3.10l-3.10,3.10l-3.10,-3.10zM624.89,356.05l3.10,3.10l-3.10,3.10l-3.10,-3.10zM627.19,347.59l3.10,3.10l-3.10,3.10l-3.10,-3.10zM628.16,343.81l3.10,3.10l-3.10,3.10l-3.10,-3.10zM625.26,350.59l3.10,3.10l-3.10,3.10l-3.10,-3.10zM627.16,345.72l3.10,3.10l-3.10,3.10l-3.10,-3.10zM628.03,352.86l3.10,3.10l-3.10,3.10l-3.10,-3.10zM628.26,342.02l3.10,3.10l-3.10,3.10l-3.10,-3.10zM627.70,339.75l3.10,3.10l-3.10,3.10l-3.10,-3.10zM630.28,344.96l3.10,3.10l-3.10,3.10l-3.10,-3.10zM629.06,342.58l3.10,3.10l-3.10,3.10l-3.10,-3.10zM629.91,345.05l3.10,3.10l-3.10,3.10l-3.10,-3.10zM627.56,338.11l3.10,3.10l-3.10,3.10l-3.10,-3.10zM630.99,348.58l3.10,3.10l-3.10,3.10l-3.10,-3.10zM628.89,340.26l3.10,3.10l-3.10,3.10l-3.10,-3.10zM633.03,344.74l3.10,3.10l-3.10,3.10l-3.10,-3.10zM633.18,339.24l3.10,3.10l-3.10,3.10l-3.10,-3.10zM632.23,337.46l3.10,3.10l-3.10,3.10l-3.10,-3.10zM633.62,343.05l3.10,3.10l-3.10,3.10l-3.10,-3.10zM633.99,344.85l3.10,3.10l-3.10,3.10l-3.10,-3.10zM634.09,349.70l3.10,3.10l-3.10,3.10l-3.10,-3.10zM635.25,344.43l3.10,3.10l-3.10,3.10l-3.10,-3.10zM635.02,345.29l3.10,3.10l-3.10,3.10l-3.10,-3.10zM634.98,344.99l3.10,3.10l-3.10,3.10l-3.10,-3.10zM634.99,353.54l3.10,3.10l-3.10,3.10l-3.10,-3.10zM638.87,340.02l3.10,3.10l-3.10,3.10l-3.10,-3.10zM637.26,347.36l3.10,3.10l-3.10,3.10l-3.10,-3.10zM637.41,343.10l3.10,3.10l-3.10,3.10l-3.10,-3.10zM638.90,342.04l3.10,3.10l-3.10,3.10l-3.10,-3.10zM637.80,339.02l3.10,3.10l-3.10,3.10l-3.10,-3.10zM638.26,345.32l3.10,3.10l-3.10,3.10l-3.10,-3.10zM640.17,336.48l3.10,3.10l-3.10,3.10l-3.10,-3.10zM641.12,337.96l3.10,3.10l-3.10,3.10l-3.10,-3.10zM641.08,340.26l3.10,3.10l-3.10,3.10l-3.10,-3.10zM638.53,337.13l3.10,3.10l-3.10,3.10l-3.10,-3.10zM641.12,343.26l3.10,3.10l-3.10,3.10l-3.10,-3.10zM641.46,343.79l3.10,3.10l-3.10,3.10l-3.10,-3.10zM642.57,338.80l3.10,3.10l-3.10,3.10l-3.10,-3.10zM641.16,343.35l3.10,3.10l-3.10,3.10l-3.10,-3.10zM641.38,336.71l3.10,3.10l-3.10,3.10l-3.10,-3.10zM643.13,338.82l3.10,3.10l-3.10,3.10l-3.10,-3.10zM642.51,336.91l3.10,3.10l-3.10,3.10l-3.10,-3.10zM642.71,342.35l3.10,3.10l-3.10,3.10l-3.10,-3.10zM644.54,335.47l3.10,3.10l-3.10,3.10l-3.10,-3.10zM646.38,333.31l3.10,3.10l-3.10,3.10l-3.10,-3.10zM645.73,334.13l3.10,3.10l-3.10,3.10l-3.10,-3.10zM647.54,341.71l3.10,3.10l-3.10,3.10l-3.10,-3.10zM645.06,334.32l3.10,3.10l-3.10,3.10l-3.10,-3.10zM647.87,339.14l3.10,3.10l-3.10,3.10l-3.10,-3.10zM647.32,339.50l3.10,3.10l-3.10,3.10l-3.10,-3.10zM646.57,334.64l3.10,3.10l-3.10,3.10l-3.10,-3.10zM647.66,341.69l3.10,3.10l-3.10,3.10l-3.10,-3.10zM647.50,347.60l3.10,3.10l-3.10,3.10l-3.10,-3.10zM648.84,343.65l3.10,3.10l-3.10,3.10l-3.10,-3.10zM648.55,339.17l3.10,3.10l-3.10,3.10l-3.10,-3.10zM651.78,342.15l3.10,3.10l-3.10,3.10l-3.10,-3.10zM649.99,340.06l3.10,3.10l-3.10,3.10l-3.10,-3.10zM648.97,344.61l3.10,3.10l-3.10,3.10l-3.10,-3.10zM651.12,334.60l3.10,3.10l-3.10,3.10l-3.10,-3.10zM652.37,335.47l3.10,3.10l-3.10,3.10l-3.10,-3.10zM651.85,338.34l3.10,3.10l-3.10,3.10l-3.10,-3.10zM653.93,336.77l3.10,3.10l-3.10,3.10l-3.10,-3.10zM651.93,337.55l3.10,3.10l-3.10,3.10l-3.10,-3.10zM652.45,336.38l3.10,3.10l-3.10,3.10l-3.10,-3.10zM656.33,335.77l3.10,3.10l-3.10,3.10l-3.10,-3.10zM654.54,332.36l3.10,3.10l-3.10,3.10l-3.10,-3.10zM655.74,336.56l3.10,3.10l-3.10,3.10l-3.10,-3.10zM656.12,333.82l3.10,3.10l-3.10,3.10l-3.10,-3.10zM656.68,332.86l3.10,3.10l-3.10,3.10l-3.10,-3.10zM656.40,333.27l3.10,3.10l-3.10,3.10l-3.10,-3.10zM656.52,335.45l3.10,3.10l-3.10,3.10l-3.10,-3.10zM658.73,336.57l3.10,3.10l-3.10,3.10l-3.10,-3.10zM657.01,329.91l3.10,3.10l-3.10,3.10l-3.10,-3.10zM658.30,335.02l3.10,3.10l-3.10,3.10l-3.10,-3.10zM659.53,337.03l3.10,3.10l-3.10,3.10l-3.10,-3.10zM658.49,332.55l3.10,3.10l-3.10,3.10l-3.10,-3.10zM657.37,327.97l3.10,3.10l-3.10,3.10l-3.10,-3.10zM660.57,326.10l3.10,3.10l-3.10,3.10l-3.10,-3.10zM661.88,338.18l3.10,3.10l-3.10,3.10l-3.10,-3.10zM661.19,339.51l3.10,3.10l-3.10,3.10l-3.10,-3.10zM658.98,338.07l3.10,3.10l-3.10,3.10l-3.10,-3.10zM662.62,332.59l3.10,3.10l-3.10,3.10l-3.10,-3.10zM664.90,339.59l3.10,3.10l-3.10,3.10l-3.10,-3.10zM660.51,337.59l3.10,3.10l-3.10,3.10l-3.10,-3.10zM659.36,333.45l3.10,3.10l-3.10,3.10l-3.10,-3.10zM663.20,332.45l3.10,3.10l-3.10,3.10l-3.10,-3.10zM664.10,325.35l3.10,3.10l-3.10,3.10l-3.10,-3.10zM665.52,333.10l3.10,3.10l-3.10,3.10l-3.10,-3.10zM666.02,324.09l3.10,3.10l-3.10,3.10l-3.10,-3.10zM665.47,332.71l3.10,3.10l-3.10,3.10l-3.10,-3.10zM666.54,333.19l3.10,3.10l-3.10,3.10l-3.10,-3.10zM666.71,332.44l3.10,3.10l-3.10,3.10l-3.10,-3.10zM666.87,335.85l3.10,3.10l-3.10,3.10l-3.10,-3.10zM667.07,329.84l3.10,3.10l-3.10,3.10l-3.10,-3.10zM667.39,331.60l3.10,3.10l-3.10,3.10l-3.10,-3.10zM669.01,332.97l3.10,3.10l-3.10,3.10l-3.10,-3.10zM669.05,330.29l3.10,3.10l-3.10,3.10l-3.10,-3.10zM668.36,328.25l3.10,3.10l-3.10,3.10l-3.10,-3.10zM670.90,332.31l3.10,3.10l-3.10,3.10l-3.10,-3.10zM668.85,330.17l3.10,3.10l-3.10,3.10l-3.10,-3.10zM669.98,327.40l3.10,3.10l-3.10,3.10l-3.10,-3.10zM670.93,328.32l3.10,3.10l-3.10,3.10l-3.10,-3.10zM668.59,327.47l3.10,3.10l-3.10,3.10l-3.10,-3.10zM671.13,334.54l3.10,3.10l-3.10,3.10l-3.10,-3.10zM673.27,327.07l3.10,3.10l-3.10,3.10l-3.10,-3.10zM673.66,323.71l3.10,3.10l-3.10,3.10l-3.10,-3.10zM671.37,321.49l3.10,3.10l-3.10,3.10l-3.10,-3.10zM672.31,320.18l3.10,3.10l-3.10,3.10l-3.10,-3.10zM672.43,316.65l3.10,3.10l-3.10,3.10l-3.10,-3.10zM674.03,323.78l3.10,3.10l-3.10,3.10l-3.10,-3.10zM674.71,323.33l3.10,3.10l-3.10,3.10l-3.10,-3.10zM673.07,320.68l3.10,3.10l-3.10,3.10l-3.10,-3.10zM676.13,318.51l3.10,3.10l-3.10,3.10l-3.10,-3.10zM676.25,322.44l3.10,3.10l-3.10,3.10l-3.10,-3.10zM676.50,323.43l3.10,3.10l-3.10,3.10l-3.10,-3.10zM676.13,318.76l3.10,3.10l-3.10,3.10l-3.10,-3.10zM677.25,324.95l3.10,3.10l-3.10,3.10l-3.10,-3.10zM675.52,324.55l3.10,3.10l-3.10,3.10l-3.10,-3.10zM678.72,320.85l3.10,3.10l-3.10,3.10l-3.10,-3.10zM679.14,322.65l3.10,3.10l-3.10,3.10l-3.10,-3.10zM679.16,315.99l3.10,3.10l-3.10,3.10l-3.10,-3.10zM678.14,324.15l3.10,3.10l-3.10,3.10l-3.10,-3.10zM681.94,315.97l3.10,3.10l-3.10,3.10l-3.10,-3.10zM682.19,319.34l3.10,3.10l-3.10,3.10l-3.10,-3.10zM678.54,319.15l3.10,3.10l-3.10,3.10l-3.10,-3.10zM682.12,314.65l3.10,3.10l-3.10,3.10l-3.10,-3.10zM682.21,315.43l3.10,3.10l-3.10,3.10l-3.10,-3.10zM678.94,312.23l3.10,3.10l-3.10,3.10l-3.10,-3.10zM683.61,311.36l3.10,3.10l-3.10,3.10l-3.10,-3.10zM684.24,315.97l3.10,3.10l-3.10,3.10l-3.10,-3.10zM684.78,313.04l3.10,3.10l-3.10,3.10l-3.10,-3.10zM684.47,314.44l3.10,3.10l-3.10,3.10l-3.10,-3.10zM683.81,313.15l3.10,3.10l-3.10,3.10l-3.10,-3.10zM684.45,316.10l3.10,3.10l-3.10,3.10l-3.10,-3.10zM686.30,314.32l3.10,3.10l-3.10,3.10l-3.10,-3.10zM687.65,313.04l3.10,3.10l-3.10,3.10l-3.10,-3.10zM685.84,311.38l3.10,3.10l-3.10,3.10l-3.10,-3.10zM686.57,310.41l3.10,3.10l-3.10,3.10l-3.10,-3.10zM688.35,310.10l3.10,3.10l-3.10,3.10l-3.10,-3.10zM684.92,316.72l3.10,3.10l-3.10,3.10l-3.10,-3.10zM688.91,306.44l3.10,3.10l-3.10,3.10l-3.10,-3.10zM688.44,309.51l3.10,3.10l-3.10,3.10l-3.10,-3.10zM686.21,312.87l3.10,3.10l-3.10,3.10l-3.10,-3.10zM690.71,310.17l3.10,3.10l-3.10,3.10l-3.10,-3.10zM688.86,314.61l3.10,3.10l-3.10,3.10l-3.10,-3.10zM691.63,310.11l3.10,3.10l-3.10,3.10l-3.10,-3.10zM692.88,303.06l3.10,3.10l-3.10,3.10l-3.10,-3.10zM689.76,305.98l3.10,3.10l-3.10,3.10l-3.10,-3.10zM690.27,301.47l3.10,3.10l-3.10,3.10l-3.10,-3.10zM692.34,306.31l3.10,3.10l-3.10,3.10l-3.10,-3.10zM690.42,308.89l3.10,3.10l-3.10,3.10l-3.10,-3.10zM694.25,302.85l3.10,3.10l-3.10,3.10l-3.10,-3.10zM693.96,306.48l3.10,3.10l-3.10,3.10l-3.10,-3.10zM695.50,302.17l3.10,3.10l-3.10,3.10l-3.10,-3.10zM692.11,298.88l3.10,3.10l-3.10,3.10l-3.10,-3.10zM695.34,301.41l3.10,3.10l-3.10,3.10l-3.10,-3.10zM696.14,297.28l3.10,3.10l-3.10,3.10l-3.10,-3.10zM693.51,302.13l3.10,3.10l-3.10,3.10l-3.10,-3.10zM697.63,305.30l3.10,3.10l-3.10,3.10l-3.10,-3.10zM694.99,308.00l3.10,3.10l-3.10,3.10l-3.10,-3.10zM697.56,309.64l3.10,3.10l-3.10,3.10l-3.10,-3.10zM695.97,302.49l3.10,3.10l-3.10,3.10l-3.10,-3.10zM699.29,305.98l3.10,3.10l-3.10,3.10l-3.10,-3.10zM701.00,307.06l3.10,3.10l-3.10,3.10l-3.10,-3.10zM699.21,306.07l3.10,3.10l-3.10,3.10l-3.10,-3.10zM699.62,292.13l3.10,3.10l-3.10,3.10l-3.10,-3.10zM701.80,299.12l3.10,3.10l-3.10,3.10l-3.10,-3.10zM699.87,305.43l3.10,3.10l-3.10,3.10l-3.10,-3.10zM701.00,296.98l3.10,3.10l-3.10,3.10l-3.10,-3.10zM702.51,298.52l3.10,3.10l-3.10,3.10l-3.10,-3.10zM702.42,302.23l3.10,3.10l-3.10,3.10l-3.10,-3.10zM704.44,290.05l3.10,3.10l-3.10,3.10l-3.10,-3.10zM704.39,294.43l3.10,3.10l-3.10,3.10l-3.10,-3.10zM705.83,298.38l3.10,3.10l-3.10,3.10l-3.10,-3.10zM703.64,300.71l3.10,3.10l-3.10,3.10l-3.10,-3.10zM705.65,295.33l3.10,3.10l-3.10,3.10l-3.10,-3.10zM703.47,300.43l3.10,3.10l-3.10,3.10l-3.10,-3.10zM706.28,298.02l3.10,3.10l-3.10,3.10l-3.10,-3.10zM707.89,301.89l3.10,3.10l-3.10,3.10l-3.10,-3.10zM709.16,299.26l3.10,3.10l-3.10,3.10l-3.10,-3.10zM704.70,295.36l3.10,3.10l-3.10,3.10l-3.10,-3.10zM706.63,296.70l3.10,3.10l-3.10,3.10l-3.10,-3.10zM708.29,289.48l3.10,3.10l-3.10,3.10l-3.10,-3.10zM706.57,287.62l3.10,3.10l-3.10,3.10l-3.10,-3.10zM708.97,283.44l3.10,3.10l-3.10,3.10l-3.10,-3.10zM709.41,288.08l3.10,3.10l-3.10,3.10l-3.10,-3.10zM708.46,291.34l3.10,3.10l-3.10,3.10l-3.10,-3.10zM708.84,289.77l3.10,3.10l-3.10,3.10l-3.10,-3.10zM708.77,287.66l3.10,3.10l-3.10,3.10l-3.10,-3.10zM710.90,284.23l3.10,3.10l-3.10,3.10l-3.10,-3.10zM712.66,284.91l3.10,3.10l-3.10,3.10l-3.10,-3.10zM711.78,290.75l3.10,3.10l-3.10,3.10l-3.10,-3.10zM715.62,282.03l3.10,3.10l-3.10,3.10l-3.10,-3.10zM710.25,294.07l3.10,3.10l-3.10,3.10l-3.10,-3.10zM711.94,285.14l3.10,3.10l-3.10,3.10l-3.10,-3.10zM714.10,291.05l3.10,3.10l-3.10,3.10l-3.10,-3.10zM712.07,287.16l3.10,3.10l-3.10,3.10l-3.10,-3.10zM714.56,281.16l3.10,3.10l-3.10,3.10l-3.10,-3.10zM715.65,287.65l3.10,3.10l-3.10,3.10l-3.10,-3.10zM715.23,286.47l3.10,3.10l-3.10,3.10l-3.10,-3.10zM715.12,285.25l3.10,3.10l-3.10,3.10l-3.10,-3.10zM717.17,285.24l3.10,3.10l-3.10,3.10l-3.10,-3.10zM716.90,279.47l3.10,3.10l-3.10,3.10l-3.10,-3.10zM717.77,278.39l3.10,3.10l-3.10,3.10l-3.10,-3.10zM717.98,279.24l3.10,3.10l-3.10,3.10l-3.10,-3.10zM716.76,274.94l3.10,3.10l-3.10,3.10l-3.10,-3.10zM716.62,278.83l3.10,3.10l-3.10,3.10l-3.10,-3.10zM718.06,277.39l3.10,3.10l-3.10,3.10l-3.10,-3.10zM719.27,275.68l3.10,3.10l-3.10,3.10l-3.10,-3.10zM719.22,274.37l3.10,3.10l-3.10,3.10l-3.10,-3.10zM721.23,271.05l3.10,3.10l-3.10,3.10l-3.10,-3.10zM720.73,273.67l3.10,3.10l-3.10,3.10l-3.10,-3.10zM722.16,264.06l3.10,3.10l-3.10,3.10l-3.10,-3.10zM721.44,268.44l3.10,3.10l-3.10,3.10l-3.10,-3.10zM720.74,269.25l3.10,3.10l-3.10,3.10l-3.10,-3.10zM723.33,274.45l3.10,3.10l-3.10,3.10l-3.10,-3.10zM723.31,274.66l3.10,3.10l-3.10,3.10l-3.10,-3.10zM721.92,274.73l3.10,3.10l-3.10,3.10l-3.10,-3.10zM722.96,273.26l3.10,3.10l-3.10,3.10l-3.10,-3.10zM727.80,276.63l3.10,3.10l-3.10,3.10l-3.10,-3.10zM719.77,271.51l3.10,3.10l-3.10,3.10l-3.10,-3.10zM726.41,275.67l3.10,3.10l-3.10,3.10l-3.10,-3.10zM725.39,266.77l3.10,3.10l-3.10,3.10l-3.10,-3.10zM725.66,279.83l3.10,3.10l-3.10,3.10l-3.10,-3.10zM725.79,278.25l3.10,3.10l-3.10,3.10l-3.10,-3.10zM725.94,267.23l3.10,3.10l-3.10,3.10l-3.10,-3.10zM730.35,265.41l3.10,3.10l-3.10,3.10l-3.10,-3.10zM726.93,259.58l3.10,3.10l-3.10,3.10l-3.10,-3.10zM727.57,259.89l3.10,3.10l-3.10,3.10l-3.10,-3.10zM729.54,262.78l3.10,3.10l-3.10,3.10l-3.10,-3.10zM729.41,259.99l3.10,3.10l-3.10,3.10l-3.10,-3.10zM729.08,256.57l3.10,3.10l-3.10,3.10l-3.10,-3.10zM729.38,258.93l3.10,3.10l-3.10,3.10l-3.10,-3.10zM728.39,259.37l3.10,3.10l-3.10,3.10l-3.10,-3.10zM732.17,264.64l3.10,3.10l-3.10,3.10l-3.10,-3.10zM729.66,266.52l3.10,3.10l-3.10,3.10l-3.10,-3.10zM728.22,263.24l3.10,3.10l-3.10,3.10l-3.10,-3.10zM733.46,265.68l3.10,3.10l-3.10,3.10l-3.10,-3.10zM733.50,264.56l3.10,3.10l-3.10,3.10l-3.10,-3.10zM733.38,256.00l3.10,3.10l-3.10,3.10l-3.10,-3.10zM732.64,261.96l3.10,3.10l-3.10,3.10l-3.10,-3.10zM735.45,260.86l3.10,3.10l-3.10,3.10l-3.10,-3.10zM732.75,262.04l3.10,3.10l-3.10,3.10l-3.10,-3.10zM731.67,253.40l3.10,3.10l-3.10,3.10l-3.10,-3.10zM735.37,260.94l3.10,3.10l-3.10,3.10l-3.10,-3.10zM736.71,254.62l3.10,3.10l-3.10,3.10l-3.10,-3.10zM736.90,258.01l3.10,3.10l-3.10,3.10l-3.10,-3.10zM739.37,262.57l3.10,3.10l-3.10,3.10l-3.10,-3.10zM738.10,253.80l3.10,3.10l-3.10,3.10l-3.10,-3.10zM737.08,254.12l3.10,3.10l-3.10,3.10l-3.10,-3.10zM737.57,259.55l3.10,3.10l-3.10,3.10l-3.10,-3.10zM739.53,251.29l3.10,3.10l-3.10,3.10l-3.10,-3.10zM738.65,250.81l3.10,3.10l-3.10,3.10l-3.10,-3.10zM739.00,254.66l3.10,3.10l-3.10,3.10l-3.10,-3.10zM737.19,252.04l3.10,3.10l-3.10,3.10l-3.10,-3.10zM739.65,253.45l3.10,3.10l-3.10,3.10l-3.10,-3.10zM738.73,249.31l3.10,3.10l-3.10,3.10l-3.10,-3.10zM741.31,246.58l3.10,3.10l-3.10,3.10l-3.10,-3.10zM741.62,247.92l3.10,3.10l-3.10,3.10l-3.10,-3.10zM742.87,250.34l3.10,3.10l-3.10,3.10l-3.10,-3.10zM744.82,240.65l3.10,3.10l-3.10,3.10l-3.10,-3.10zM742.53,246.54l3.10,3.10l-3.10,3.10l-3.10,-3.10zM745.24,242.91l3.10,3.10l-3.10,3.10l-3.10,-3.10zM742.11,238.13l3.10,3.10l-3.10,3.10l-3.10,-3.10zM744.35,238.22l3.10,3.10l-3.10,3.10l-3.10,-3.10zM745.91,231.90l3.10,3.10l-3.10,3.10l-3.10,-3.10zM747.75,233.14l3.10,3.10l-3.10,3.10l-3.10,-3.10zM743.95,235.20l3.10,3.10l-3.10,3.10l-3.10,-3.10zM745.57,235.46l3.10,3.10l-3.10,3.10l-3.10,-3.10zM746.58,237.92l3.10,3.10l-3.10,3.10l-3.10,-3.10zM746.69,226.01l3.10,3.10l-3.10,3.10l-3.10,-3.10zM745.95,230.26l3.10,3.10l-3.10,3.10l-3.10,-3.10zM745.45,227.36l3.10,3.10l-3.10,3.10l-3.10,-3.10zM746.47,225.87l3.10,3.10l-3.10,3.10l-3.10,-3.10zM748.51,229.51l3.10,3.10l-3.10,3.10l-3.10,-3.10zM747.21,220.73l3.10,3.10l-3.10,3.10l-3.10,-3.10zM752.00,227.42l3.10,3.10l-3.10,3.10l-3.10,-3.10zM751.69,220.50l3.10,3.10l-3.10,3.10l-3.10,-3.10zM747.77,219.80l3.10,3.10l-3.10,3.10l-3.10,-3.10zM750.19,223.16l3.10,3.10l-3.10,3.10l-3.10,-3.10zM753.18,217.67l3.10,3.10l-3.10,3.10l-3.10,-3.10zM753.80,220.13l3.10,3.10l-3.10,3.10l-3.10,-3.10zM753.79,220.28l3.10,3.10l-3.10,3.10l-3.10,-3.10zM750.68,218.40l3.10,3.10l-3.10,3.10l-3.10,-3.10zM752.61,215.02l3.10,3.10l-3.10,3.10l-3.10,-3.10zM755.36,207.83l3.10,3.10l-3.10,3.10l-3.10,-3.10zM754.17,210.78l3.10,3.10l-3.10,3.10l-3.10,-3.10zM753.84,213.57l3.10,3.10l-3.10,3.10l-3.10,-3.10zM755.63,213.23l3.10,3.10l-3.10,3.10l-3.10,-3.10zM756.75,206.02l3.10,3.10l-3.10,3.10l-3.10,-3.10zM756.02,214.67l3.10,3.10l-3.10,3.10l-3.10,-3.10zM756.62,211.44l3.10,3.10l-3.10,3.10l-3.10,-3.10zM758.22,203.69l3.10,3.10l-3.10,3.10l-3.10,-3.10zM756.39,204.48l3.10,3.10l-3.10,3.10l-3.10,-3.10zM756.35,210.84l3.10,3.10l-3.10,3.10l-3.10,-3.10zM759.14,199.79l3.10,3.10l-3.10,3.10l-3.10,-3.10zM756.85,203.26l3.10,3.10l-3.10,3.10l-3.10,-3.10zM759.67,204.45l3.10,3.10l-3.10,3.10l-3.10,-3.10zM758.40,203.29l3.10,3.10l-3.10,3.10l-3.10,-3.10zM761.05,200.54l3.10,3.10l-3.10,3.10l-3.10,-3.10zM758.66,199.80l3.10,3.10l-3.10,3.10l-3.10,-3.10zM762.36,193.65l3.10,3.10l-3.10,3.10l-3.10,-3.10zM761.62,193.05l3.10,3.10l-3.10,3.10l-3.10,-3.10zM761.24,198.75l3.10,3.10l-3.10,3.10l-3.10,-3.10zM760.91,186.64l3.10,3.10l-3.10,3.10l-3.10,-3.10zM762.35,186.69l3.10,3.10l-3.10,3.10l-3.10,-3.10zM761.73,186.30l3.10,3.10l-3.10,3.10l-3.10,-3.10zM761.79,182.37l3.10,3.10l-3.10,3.10l-3.10,-3.10zM765.42,186.21l3.10,3.10l-3.10,3.10l-3.10,-3.10zM765.20,181.25l3.10,3.10l-3.10,3.10l-3.10,-3.10zM766.54,181.21l3.10,3.10l-3.10,3.10l-3.10,-3.10zM763.37,166.21l3.10,3.10l-3.10,3.10l-3.10,-3.10zM762.99,177.95l3.10,3.10l-3.10,3.10l-3.10,-3.10zM763.95,176.18l3.10,3.10l-3.10,3.10l-3.10,-3.10zM767.52,168.97l3.10,3.10l-3.10,3.10l-3.10,-3.10zM768.19,172.84l3.10,3.10l-3.10,3.10l-3.10,-3.10zM764.92,166.81l3.10,3.10l-3.10,3.10l-3.10,-3.10zM769.39,168.97l3.10,3.10l-3.10,3.10l-3.10,-3.10zM767.80,171.01l3.10,3.10l-3.10,3.10l-3.10,-3.10zM767.18,165.62l3.10,3.10l-3.10,3.10l-3.10,-3.10zM769.20,163.01l3.10,3.10l-3.10,3.10l-3.10,-3.10zM770.55,164.57l3.10,3.10l-3.10,3.10l-3.10,-3.10zM769.91,159.01l3.10,3.10l-3.10,3.10l-3.10,-3.10zM770.41,158.79l3.10,3.10l-3.10,3.10l-3.10,-3.10zM769.93,159.91l3.10,3.10l-3.10,3.10l-3.10,-3.10zM769.56,158.23l3.10,3.10l-3.10,3.10l-3.10,-3.10zM771.48,162.73l3.10,3.10l-3.10,3.10l-3.10,-3.10zM770.18,159.95l3.10,3.10l-3.10,3.10l-3.10,-3.10zM773.74,154.63l3.10,3.10l-3.10,3.10l-3.10,-3.10zM772.15,160.35l3.10,3.10l-3.10,3.10l-3.10,-3.10zM775.64,150.86l3.10,3.10l-3.10,3.10l-3.10,-3.10zM772.02,153.17l3.10,3.10l-3.10,3.10l-3.10,-3.10zM776.67,155.23l3.10,3.10l-3.10,3.10l-3.10,-3.10zM773.91,158.58l3.10,3.10l-3.10,3.10l-3.10,-3.10zM774.35,158.34l3.10,3.10l-3.10,3.10l-3.10,-3.10zM776.46,157.37l3.10,3.10l-3.10,3.10l-3.10,-3.10zM777.76,157.87l3.10,3.10l-3.10,3.10l-3.10,-3.10zM776.89,152.74l3.10,3.10l-3.10,3.10l-3.10,-3.10zM776.90,152.64l3.10,3.10l-3.10,3.10l-3.10,-3.10zM780.64,142.82l3.10,3.10l-3.10,3.10l-3.10,-3.10zM779.01,139.99l3.10,3.10l-3.10,3.10l-3.10,-3.10zM777.06,142.92l3.10,3.10l-3.10,3.10l-3.10,-3.10zM778.83,144.46l3.10,3.10l-3.10,3.10l-3.10,-3.10zM782.02,141.37l3.10,3.10l-3.10,3.10l-3.10,-3.10zM780.56,142.22l3.10,3.10l-3.10,3.10l-3.10,-3.10zM781.70,140.35l3.10,3.10l-3.10,3.10l-3.10,-3.10zM783.85,139.23l3.10,3.10l-3.10,3.10l-3.10,-3.10zM780.61,139.71l3.10,3.10l-3.10,3.10l-3.10,-3.10zM782.42,133.51l3.10,3.10l-3.10,3.10l-3.10,-3.10zM781.41,135.43l3.10,3.10l-3.10,3.10l-3.10,-3.10zM782.79,126.05l3.10,3.10l-3.10,3.10l-3.10,-3.10zM784.00,128.67l3.10,3.10l-3.10,3.10l-3.10,-3.10zM781.83,118.60l3.10,3.10l-3.10,3.10l-3.10,-3.10zM784.35,123.47l3.10,3.10l-3.10,3.10l-3.10,-3.10zM784.80,115.88l3.10,3.10l-3.10,3.10l-3.10,-3.10zM786.53,123.26l3.10,3.10l-3.10,3.10l-3.10,-3.10zM784.66,112.20l3.10,3.10l-3.10,3.10l-3.10,-3.10zM784.16,116.34l3.10,3.10l-3.10,3.10l-3.10,-3.10zM786.95,114.36l3.10,3.10l-3.10,3.10l-3.10,-3.10zM785.27,110.05l3.10,3.10l-3.10,3.10l-3.10,-3.10zM787.55,116.83l3.10,3.10l-3.10,3.10l-3.10,-3.10zM788.54,110.78l3.10,3.10l-3.10,3.10l-3.10,-3.10zM786.96,115.68l3.10,3.10l-3.10,3.10l-3.10,-3.10zM788.47,105.57l3.10,3.10l-3.10,3.10l-3.10,-3.10zM787.64,104.88l3.10,3.10l-3.10,3.10l-3.10,-3.10zM785.56,99.06l3.10,3.10l-3.10,3.10l-3.10,-3.10zM787.95,105.49l3.10,3.10l-3.10,3.10l-3.10,-3.10zM787.51,105.38l3.10,3.10l-3.10,3.10l-3.10,-3.10zM790.91,102.00l3.10,3.10l-3.10,3.10l-3.10,-3.10zM789.83,98.44l3.10,3.10l-3.10,3.10l-3.10,-3.10zM791.58,94.97l3.10,3.10l-3.10,3.10l-3.10,-3.10zM792.16,107.18l3.10,3.10l-3.10,3.10l-3.10,-3.10zM794.17,99.69l3.10,3.10l-3.10,3.10l-3.10,-3.10zM792.64,90.24l3.10,3.10l-3.10,3.10l-3.10,-3.10zM793.02,94.28l3.10,3.10l-3.10,3.10l-3.10,-3.10zM794.74,85.96l3.10,3.10l-3.10,3.10l-3.10,-3.10zM796.75,100.75l3.10,3.10l-3.10,3.10l-3.10,-3.10zM794.82,100.40l3.10,3.10l-3.10,3.10l-3.10,-3.10zM795.86,98.27l3.10,3.10l-3.10,3.10l-3.10,-3.10zM795.56,93.62l3.10,3.10l-3.10,3.10l-3.10,-3.10zM795.30,86.96l3.10,3.10l-3.10,3.10l-3.10,-3.10zM794.56,84.26l3.10,3.10l-3.10,3.10l-3.10,-3.10zM797.07,88.79l3.10,3.10l-3.10,3.10l-3.10,-3.10zM797.25,85.51l3.10,3.10l-3.10,3.10l-3.10,-3.10zM797.73,85.17l3.10,3.10l-3.10,3.10l-3.10,-3.10zM801.32,80.55l3.10,3.10l-3.10,3.10l-3.10,-3.10zM798.51,78.48l3.10,3.10l-3.10,3.10l-3.10,-3.10zM799.90,78.25l3.10,3.10l-3.10,3.10l-3.10,-3.10zM799.39,77.29l3.10,3.10l-3.10,3.10l-3.10,-3.10zM801.99,69.87l3.10,3.10l-3.10,3.10l-3.10,-3.10zM800.38,65.22l3.10,3.10l-3.10,3.10l-3.10,-3.10zM803.85,59.03l3.10,3.10l-3.10,3.10l-3.10,-3.10zM801.32,53.56l3.10,3.10l-3.10,3.10l-3.10,-3.10zM803.23,53.04l3.10,3.10l-3.10,3.10l-3.10,-3.10zM804.02,56.35l3.10,3.10l-3.10,3.10l-3.10,-3.10zM802.70,52.82l3.10,3.10l-3.10,3.10l-3.10,-3.10zM804.69,53.33l3.10,3.10l-3.10,3.10l-3.10,-3.10zM804.03,48.84l3.10,3.10l-3.10,3.10l-3.10,-3.10zM803.32,44.26l3.10,3.10l-3.10,3.10l-3.10,-3.10zM803.90,40.28l3.10,3.10l-3.10,3.10l-3.10,-3.10zM805.76,43.22l3.10,3.10l-3.10,3.10l-3.10,-3.10zM808.24,38.45l3.10,3.10l-3.10,3.10l-3.10,-3.10zM805.50,47.35l3.10,3.10l-3.10,3.10l-3.10,-3.10zM807.40,42.43l3.10,3.10l-3.10,3.10l-3.10,-3.10zM805.96,40.00l3.10,3.10l-3.10,3.10l-3.10,-3.10zM807.90,47.67l3.10,3.10l-3.10,3.10l-3.10,-3.10zM806.16,40.14l3.10,3.10l-3.10,3.10l-3.10,-3.10zM807.33,42.68l3.10,3.10l-3.10,3.10l-3.10,-3.10zM808.88,40.54l3.10,3.10l-3.10,3.10l-3.10,-3.10zM808.29,41.20l3.10,3.10l-3.10,3.10l-3.10,-3.10zM809.41,37.77l3.10,3.10l-3.10,3.10l-3.10,-3.10zM811.66,39.55l3.10,3.10l-3.10,3.10l-3.10,-3.10zM810.51,43.20l3.10,3.10l-3.10,3.10l-3.10,-3.10zM810.13,33.78l3.10,3.10l-3.10,3.10l-3.10,-3.10zM809.86,33.42l3.10,3.10l-3.10,3.10l-3.10,-3.10zM811.29,44.92l3.10,3.10l-3.10,3.10l-3.10,-3.10zM814.11,42.59l3.10,3.10l-3.10,3.10l-3.10,-3.10zM812.83,44.41l3.10,3.10l-3.10,3.10l-3.10,-3.10zM813.19,40.64l3.10,3.10l-3.10,3.10l-3.10,-3.10zM814.85,48.45l3.10,3.10l-3.10,3.10l-3.10,-3.10zM815.47,50.25l3.10,3.10l-3.10,3.10l-3.10,-3.10zM816.15,39.12l3.10,3.10l-3.10,3.10l-3.10,-3.10zM814.69,46.08l3.10,3.10l-3.10,3.10l-3.10,-3.10zM814.36,40.04l3.10,3.10l-3.10,3.10l-3.10,-3.10zM813.75,38.86l3.10,3.10l-3.10,3.10l-3.10,-3.10zM815.58,44.86l3.10,3.10l-3.10,3.10l-3.10,-3.10zM816.47,50.37l3.10,3.10l-3.10,3.10l-3.10,-3.10zM818.46,45.12l3.10,3.10l-3.10,3.10l-3.10,-3.10zM818.34,45.71l3.10,3.10l-3.10,3.10l-3.10,-3.10zM817.55,55.49l3.10,3.10l-3.10,3.10l-3.10,-3.10zM820.03,52.30l3.10,3.10l-3.10,3.10l-3.10,-3.10zM817.48,54.46l3.10,3.10l-3.10,3.10l-3.10,-3.10zM818.21,51.08l3.10,3.10l-3.10,3.10l-3.10,-3.10zM818.49,53.25l3.10,3.10l-3.10,3.10l-3.10,-3.10zM819.06,55.10l3.10,3.10l-3.10,3.10l-3.10,-3.10zM820.68,56.15l3.10,3.10l-3.10,3.10l-3.10,-3.10zM820.30,55.97l3.10,3.10l-3.10,3.10l-3.10,-3.10zM820.87,61.40l3.10,3.10l-3.10,3.10l-3.10,-3.10zM824.26,58.12l3.10,3.10l-3.10,3.10l-3.10,-3.10zM820.78,54.21l3.10,3.10l-3.10,3.10l-3.10,-3.10zM821.84,55.82l3.10,3.10l-3.10,3.10l-3.10,-3.10zM823.40,58.20l3.10,3.10l-3.10,3.10l-3.10,-3.10zM824.81,64.55l3.10,3.10l-3.10,3.10l-3.10,-3.10zM825.32,59.98l3.10,3.10l-3.10,3.10l-3.10,-3.10zM824.71,61.21l3.10,3.10l-3.10,3.10l-3.10,-3.10zM825.02,64.25l3.10,3.10l-3.10,3.10l-3.10,-3.10zM825.61,65.35l3.10,3.10l-3.10,3.10l-3.10,-3.10zM827.48,66.30l3.10,3.10l-3.10,3.10l-3.10,-3.10zM825.59,70.10l3.10,3.10l-3.10,3.10l-3.10,-3.10zM824.04,78.77l3.10,3.10l-3.10,3.10l-3.10,-3.10zM828.04,79.34l3.10,3.10l-3.10,3.10l-3.10,-3.10zM826.60,78.70l3.10,3.10l-3.10,3.10l-3.10,-3.10zM828.60,82.78l3.10,3.10l-3.10,3.10l-3.10,-3.10zM831.08,78.97l3.10,3.10l-3.10,3.10l-3.10,-3.10zM829.72,88.01l3.10,3.10l-3.10,3.10l-3.10,-3.10zM832.61,88.31l3.10,3.10l-3.10,3.10l-3.10,-3.10zM828.26,88.36l3.10,3.10l-3.10,3.10l-3.10,-3.10zM831.27,82.00l3.10,3.10l-3.10,3.10l-3.10,-3.10zM831.93,94.12l3.10,3.10l-3.10,3.10l-3.10,-3.10zM833.00,80.07l3.10,3.10l-3.10,3.10l-3.10,-3.10zM831.26,87.89l3.10,3.10l-3.10,3.10l-3.10,-3.10zM832.96,89.29l3.10,3.10l-3.10,3.10l-3.10,-3.10zM833.36,95.54l3.10,3.10l-3.10,3.10l-3.10,-3.10zM833.76,88.37l3.10,3.10l-3.10,3.10l-3.10,-3.10zM832.17,94.50l3.10,3.10l-3.10,3.10l-3.10,-3.10zM832.12,94.40l3.10,3.10l-3.10,3.10l-3.10,-3.10zM835.75,93.81l3.10,3.10l-3.10,3.10l-3.10,-3.10zM835.93,100.36l3.10,3.10l-3.10,3.10l-3.10,-3.10zM835.95,102.05l3.10,3.10l-3.10,3.10l-3.10,-3.10zM837.24,97.70l3.10,3.10l-3.10,3.10l-3.10,-3.10zM838.31,95.72l3.10,3.10l-3.10,3.10l-3.10,-3.10zM835.62,89.81l3.10,3.10l-3.10,3.10l-3.10,-3.10zM838.79,104.98l3.10,3.10l-3.10,3.10l-3.10,-3.10zM840.24,99.41l3.10,3.10l-3.10,3.10l-3.10,-3.10zM840.04,93.39l3.10,3.10l-3.10,3.10l-3.10,-3.10zM839.88,103.90l3.10,3.10l-3.10,3.10l-3.10,-3.10zM840.50,108.89l3.10,3.10l-3.10,3.10l-3.10,-3.10zM837.94,105.52l3.10,3.10l-3.10,3.10l-3.10,-3.10zM839.72,105.88l3.10,3.10l-3.10,3.10l-3.10,-3.10zM842.30,120.15l3.10,3.10l-3.10,3.10l-3.10,-3.10zM843.40,117.46l3.10,3.10l-3.10,3.10l-3.10,-3.10zM842.42,119.34l3.10,3.10l-3.10,3.10l-3.10,-3.10zM841.59,124.64l3.10,3.10l-3.10,3.10l-3.10,-3.10zM842.49,116.96l3.10,3.10l-3.10,3.10l-3.10,-3.10zM844.33,124.07l3.10,3.10l-3.10,3.10l-3.10,-3.10zM846.42,124.98l3.10,3.10l-3.10,3.10l-3.10,-3.10zM845.15,132.95l3.10,3.10l-3.10,3.10l-3.10,-3.10zM843.76,122.95l3.10,3.10l-3.10,3.10l-3.10,-3.10zM845.82,122.66l3.10,3.10l-3.10,3.10l-3.10,-3.10zM846.01,120.75l3.10,3.10l-3.10,3.10l-3.10,-3.10zM849.21,122.33l3.10,3.10l-3.10,3.10l-3.10,-3.10zM847.14,124.43l3.10,3.10l-3.10,3.10l-3.10,-3.10zM846.81,127.24l3.10,3.10l-3.10,3.10l-3.10,-3.10zM847.10,127.55l3.10,3.10l-3.10,3.10l-3.10,-3.10zM845.94,137.84l3.10,3.10l-3.10,3.10l-3.10,-3.10zM846.63,134.62l3.10,3.10l-3.10,3.10l-3.10,-3.10zM847.89,135.51l3.10,3.10l-3.10,3.10l-3.10,-3.10zM847.87,141.07l3.10,3.10l-3.10,3.10l-3.10,-3.10zM849.73,139.15l3.10,3.10l-3.10,3.10l-3.10,-3.10zM850.05,137.62l3.10,3.10l-3.10,3.10l-3.10,-3.10zM851.68,135.21l3.10,3.10l-3.10,3.10l-3.10,-3.10zM852.94,142.42l3.10,3.10l-3.10,3.10l-3.10,-3.10zM851.48,138.84l3.10,3.10l-3.10,3.10l-3.10,-3.10zM851.44,145.28l3.10,3.10l-3.10,3.10l-3.10,-3.10zM849.56,137.56l3.10,3.10l-3.10,3.10l-3.10,-3.10zM853.15,134.38l3.10,3.10l-3.10,3.10l-3.10,-3.10zM853.99,143.28l3.10,3.10l-3.10,3.10l-3.10,-3.10zM852.44,149.58l3.10,3.10l-3.10,3.10l-3.10,-3.10zM853.42,145.74l3.10,3.10l-3.10,3.10l-3.10,-3.10zM853.44,148.51l3.10,3.10l-3.10,3.10l-3.10,-3.10zM856.35,150.66l3.10,3.10l-3.10,3.10l-3.10,-3.10zM856.18,158.08l3.10,3.10l-3.10,3.10l-3.10,-3.10zM857.47,156.16l3.10,3.10l-3.10,3.10l-3.10,-3.10zM854.53,158.08l3.10,3.10l-3.10,3.10l-3.10,-3.10zM860.39,157.64l3.10,3.10l-3.10,3.10l-3.10,-3.10zM855.92,156.24l3.10,3.10l-3.10,3.10l-3.10,-3.10zM856.13,168.01l3.10,3.10l-3.10,3.10l-3.10,-3.10zM858.28,167.92l3.10,3.10l-3.10,3.10l-3.10,-3.10zM857.68,162.11l3.10,3.10l-3.10,3.10l-3.10,-3.10zM861.45,166.54l3.10,3.10l-3.10,3.10l-3.10,-3.10zM858.78,165.83l3.10,3.10l-3.10,3.10l-3.10,-3.10zM858.84,162.32l3.10,3.10l-3.10,3.10l-3.10,-3.10zM861.62,163.01l3.10,3.10l-3.10,3.10l-3.10,-3.10zM862.41,167.51l3.10,3.10l-3.10,3.10l-3.10,-3.10zM859.98,160.75l3.10,3.10l-3.10,3.10l-3.10,-3.10zM860.93,163.15l3.10,3.10l-3.10,3.10l-3.10,-3.10zM861.54,167.08l3.10,3.10l-3.10,3.10l-3.10,-3.10zM862.27,169.04l3.10,3.10l-3.10,3.10l-3.10,-3.10zM865.34,171.02l3.10,3.10l-3.10,3.10l-3.10,-3.10zM865.15,173.45l3.10,3.10l-3.10,3.10l-3.10,-3.10zM865.33,178.12l3.10,3.10l-3.10,3.10l-3.10,-3.10zM866.07,176.36l3.10,3.10l-3.10,3.10l-3.10,-3.10zM864.76,181.46l3.10,3.10l-3.10,3.10l-3.10,-3.10zM866.41,181.61l3.10,3.10l-3.10,3.10l-3.10,-3.10zM865.53,188.93l3.10,3.10l-3.10,3.10l-3.10,-3.10zM865.03,178.51l3.10,3.10l-3.10,3.10l-3.10,-3.10zM868.87,183.46l3.10,3.10l-3.10,3.10l-3.10,-3.10zM864.52,189.73l3.10,3.10l-3.10,3.10l-3.10,-3.10zM867.43,187.82l3.10,3.10l-3.10,3.10l-3.10,-3.10zM867.07,187.14l3.10,3.10l-3.10,3.10l-3.10,-3.10zM866.00,187.91l3.10,3.10l-3.10,3.10l-3.10,-3.10zM868.24,190.99l3.10,3.10l-3.10,3.10l-3.10,-3.10zM869.32,187.41l3.10,3.10l-3.10,3.10l-3.10,-3.10zM870.31,194.40l3.10,3.10l-3.10,3.10l-3.10,-3.10zM868.96,197.05l3.10,3.10l-3.10,3.10l-3.10,-3.10zM871.62,194.33l3.10,3.10l-3.10,3.10l-3.10,-3.10zM871.44,202.91l3.10,3.10l-3.10,3.10l-3.10,-3.10zM872.60,201.89l3.10,3.10l-3.10,3.10l-3.10,-3.10zM869.21,206.60l3.10,3.10l-3.10,3.10l-3.10,-3.10zM871.73,208.47l3.10,3.10l-3.10,3.10l-3.10,-3.10zM871.94,209.26l3.10,3.10l-3.10,3.10l-3.10,-3.10zM874.06,203.76l3.10,3.10l-3.10,3.10l-3.10,-3.10zM872.67,211.32l3.10,3.10l-3.10,3.10l-3.10,-3.10zM873.44,206.41l3.10,3.10l-3.10,3.10l-3.10,-3.10zM873.00,208.86l3.10,3.10l-3.10,3.10l-3.10,-3.10zM873.38,215.57l3.10,3.10l-3.10,3.10l-3.10,-3.10zM874.19,212.27l3.10,3.10l-3.10,3.10l-3.10,-3.10zM877.29,219.32l3.10,3.10l-3.10,3.10l-3.10,-3.10zM874.91,213.31l3.10,3.10l-3.10,3.10l-3.10,-3.10zM873.43,215.48l3.10,3.10l-3.10,3.10l-3.10,-3.10zM877.69,213.97l3.10,3.10l-3.10,3.10l-3.10,-3.10zM877.10,220.99l3.10,3.10l-3.10,3.10l-3.10,-3.10zM878.96,218.18l3.10,3.10l-3.10,3.10l-3.10,-3.10zM879.38,221.96l3.10,3.10l-3.10,3.10l-3.10,-3.10zM878.64,224.53l3.10,3.10l-3.10,3.10l-3.10,-3.10zM878.94,225.75l3.10,3.10l-3.10,3.10l-3.10,-3.10zM879.20,227.35l3.10,3.10l-3.10,3.10l-3.10,-3.10zM880.42,230.99l3.10,3.10l-3.10,3.10l-3.10,-3.10zM879.79,232.28l3.10,3.10l-3.10,3.10l-3.10,-3.10zM881.60,229.87l3.10,3.10l-3.10,3.10l-3.10,-3.10zM883.71,226.66l3.10,3.10l-3.10,3.10l-3.10,-3.10zM881.29,236.52l3.10,3.10l-3.10,3.10l-3.10,-3.10zM881.80,244.58l3.10,3.10l-3.10,3.10l-3.10,-3.10zM882.24,240.04l3.10,3.10l-3.10,3.10l-3.10,-3.10zM884.43,247.06l3.10,3.10l-3.10,3.10l-3.10,-3.10zM884.95,240.17l3.10,3.10l-3.10,3.10l-3.10,-3.10zM886.49,232.91l3.10,3.10l-3.10,3.10l-3.10,-3.10zM885.93,233.98l3.10,3.10l-3.10,3.10l-3.10,-3.10zM885.56,241.40l3.10,3.10l-3.10,3.10l-3.10,-3.10zM886.47,240.76l3.10,3.10l-3.10,3.10l-3.10,-3.10zM884.46,240.13l3.10,3.10l-3.10,3.10l-3.10,-3.10zM887.52,244.04l3.10,3.10l-3.10,3.10l-3.10,-3.10zM887.43,241.23l3.10,3.10l-3.10,3.10l-3.10,-3.10zM890.54,245.37l3.10,3.10l-3.10,3.10l-3.10,-3.10zM890.01,244.97l3.10,3.10l-3.10,3.10l-3.10,-3.10zM887.39,250.14l3.10,3.10l-3.10,3.10l-3.10,-3.10zM888.20,255.12l3.10,3.10l-3.10,3.10l-3.10,-3.10zM890.67,252.35l3.10,3.10l-3.10,3.10l-3.10,-3.10zM887.00,258.93l3.10,3.10l-3.10,3.10l-3.10,-3.10zM889.06,261.22l3.10,3.10l-3.10,3.10l-3.10,-3.10zM891.31,256.25l3.10,3.10l-3.10,3.10l-3.10,-3.10zM892.15,267.72l3.10,3.10l-3.10,3.10l-3.10,-3.10zM891.95,257.22l3.10,3.10l-3.10,3.10l-3.10,-3.10zM893.77,261.97l3.10,3.10l-3.10,3.10l-3.10,-3.10zM892.22,265.44l3.10,3.10l-3.10,3.10l-3.10,-3.10zM893.18,255.85l3.10,3.10l-3.10,3.10l-3.10,-3.10zM893.23,268.43l3.10,3.10l-3.10,3.10l-3.10,-3.10zM892.42,269.63l3.10,3.10l-3.10,3.10l-3.10,-3.10zM894.46,264.88l3.10,3.10l-3.10,3.10l-3.10,-3.10zM894.08,267.18l3.10,3.10l-3.10,3.10l-3.10,-3.10zM895.41,268.13l3.10,3.10l-3.10,3.10l-3.10,-3.10zM892.09,267.45l3.10,3.10l-3.10,3.10l-3.10,-3.10zM896.35,271.80l3.10,3.10l-3.10,3.10l-3.10,-3.10zM895.89,266.32l3.10,3.10l-3.10,3.10l-3.10,-3.10zM896.24,270.28l3.10,3.10l-3.10,3.10l-3.10,-3.10zM897.61,273.55l3.10,3.10l-3.10,3.10l-3.10,-3.10zM897.34,274.89l3.10,3.10l-3.10,3.10l-3.10,-3.10zM899.75,276.28l3.10,3.10l-3.10,3.10l-3.10,-3.10zM900.64,269.57l3.10,3.10l-3.10,3.10l-3.10,-3.10zM900.58,269.20l3.10,3.10l-3.10,3.10l-3.10,-3.10zM901.15,276.57l3.10,3.10l-3.10,3.10l-3.10,-3.10zM900.76,279.11l3.10,3.10l-3.10,3.10l-3.10,-3.10zM900.75,275.69l3.10,3.10l-3.10,3.10l-3.10,-3.10zM899.36,279.70l3.10,3.10l-3.10,3.10l-3.10,-3.10zM901.09,281.44l3.10,3.10l-3.10,3.10l-3.10,-3.10zM903.74,280.69l3.10,3.10l-3.10,3.10l-3.10,-3.10zM903.57,285.86l3.10,3.10l-3.10,3.10l-3.10,-3.10zM902.27,276.41l3.10,3.10l-3.10,3.10l-3.10,-3.10zM903.55,280.48l3.10,3.10l-3.10,3.10l-3.10,-3.10zM905.33,287.18l3.10,3.10l-3.10,3.10l-3.10,-3.10zM904.08,282.86l3.10,3.10l-3.10,3.10l-3.10,-3.10zM907.02,280.09l3.10,3.10l-3.10,3.10l-3.10,-3.10zM904.15,285.05l3.10,3.10l-3.10,3.10l-3.10,-3.10zM906.76,287.36l3.10,3.10l-3.10,3.10l-3.10,-3.10zM907.08,292.77l3.10,3.10l-3.10,3.10l-3.10,-3.10zM906.80,288.94l3.10,3.10l-3.10,3.10l-3.10,-3.10zM907.43,291.85l3.10,3.10l-3.10,3.10l-3.10,-3.10zM908.21,283.86l3.10,3.10l-3.10,3.10l-3.10,-3.10zM904.74,287.36l3.10,3.10l-3.10,3.10l-3.10,-3.10zM909.01,294.86l3.10,3.10l-3.10,3.10l-3.10,-3.10zM910.41,286.29l3.10,3.10l-3.10,3.10l-3.10,-3.10zM909.81,290.81l3.10,3.10l-3.10,3.10l-3.10,-3.10zM911.30,287.00l3.10,3.10l-3.10,3.10l-3.10,-3.10zM908.51,299.95l3.10,3.10l-3.10,3.10l-3.10,-3.10zM910.51,295.56l3.10,3.10l-3.10,3.10l-3.10,-3.10zM911.52,298.03l3.10,3.10l-3.10,3.10l-3.10,-3.10zM911.14,291.36l3.10,3.10l-3.10,3.10l-3.10,-3.10zM913.62,292.15l3.10,3.10l-3.10,3.10l-3.10,-3.10zM913.09,301.33l3.10,3.10l-3.10,3.10l-3.10,-3.10zM912.14,294.81l3.10,3.10l-3.10,3.10l-3.10,-3.10zM914.45,294.20l3.10,3.10l-3.10,3.10l-3.10,-3.10zM914.90,298.02l3.10,3.10l-3.10,3.10l-3.10,-3.10zM913.60,297.58l3.10,3.10l-3.10,3.10l-3.10,-3.10zM915.53,290.52l3.10,3.10l-3.10,3.10l-3.10,-3.10zM915.64,295.39l3.10,3.10l-3.10,3.10l-3.10,-3.10zM916.05,297.68l3.10,3.10l-3.10,3.10l-3.10,-3.10zM914.26,299.36l3.10,3.10l-3.10,3.10l-3.10,-3.10zM918.24,300.70l3.10,3.10l-3.10,3.10l-3.10,-3.10zM917.81,296.49l3.10,3.10l-3.10,3.10l-3.10,-3.10zM917.32,298.06l3.10,3.10l-3.10,3.10l-3.10,-3.10zM918.29,299.65l3.10,3.10l-3.10,3.10l-3.10,-3.10zM918.72,297.27l3.10,3.10l-3.10,3.10l-3.10,-3.10zM918.28,295.57l3.10,3.10l-3.10,3.10l-3.10,-3.10zM918.34,296.65l3.10,3.10l-3.10,3.10l-3.10,-3.10zM919.74,302.04l3.10,3.10l-3.10,3.10l-3.10,-3.10zM919.22,302.23l3.10,3.10l-3.10,3.10l-3.10,-3.10zM919.83,302.80l3.10,3.10l-3.10,3.10l-3.10,-3.10zM919.33,306.22l3.10,3.10l-3.10,3.10l-3.10,-3.10zM921.02,307.15l3.10,3.10l-3.10,3.10l-3.10,-3.10zM923.26,308.78l3.10,3.10l-3.10,3.10l-3.10,-3.10zM922.60,309.73l3.10,3.10l-3.10,3.10l-3.10,-3.10zM922.82,304.44l3.10,3.10l-3.10,3.10l-3.10,-3.10zM922.76,312.05l3.10,3.10l-3.10,3.10l-3.10,-3.10zM923.06,303.25l3.10,3.10l-3.10,3.10l-3.10,-3.10zM922.01,311.10l3.10,3.10l-3.10,3.10l-3.10,-3.10zM926.87,307.62l3.10,3.10l-3.10,3.10l-3.10,-3.10zM923.99,314.88l3.10,3.10l-3.10,3.10l-3.10,-3.10zM923.35,314.98l3.10,3.10l-3.10,3.10l-3.10,-3.10zM926.46,305.90l3.10,3.10l-3.10,3.10l-3.10,-3.10zM926.71,314.29l3.10,3.10l-3.10,3.10l-3.10,-3.10zM926.08,313.75l3.10,3.10l-3.10,3.10l-3.10,-3.10zM925.19,310.07l3.10,3.10l-3.10,3.10l-3.10,-3.10zM925.77,312.67l3.10,3.10l-3.10,3.10l-3.10,-3.10zM930.34,309.49l3.10,3.10l-3.10,3.10l-3.10,-3.10zM928.44,310.35l3.10,3.10l-3.10,3.10l-3.10,-3.10zM928.14,304.10l3.10,3.10l-3.10,3.10l-3.10,-3.10zM932.10,312.03l3.10,3.10l-3.10,3.10l-3.10,-3.10zM929.19,309.63l3.10,3.10l-3.10,3.10l-3.10,-3.10zM929.11,311.88l3.10,3.10l-3.10,3.10l-3.10,-3.10zM931.61,307.52l3.10,3.10l-3.10,3.10l-3.10,-3.10zM931.81,316.72l3.10,3.10l-3.10,3.10l-3.10,-3.10zM933.94,317.71l3.10,3.10l-3.10,3.10l-3.10,-3.10zM930.02,310.57l3.10,3.10l-3.10,3.10l-3.10,-3.10zM933.05,308.39l3.10,3.10l-3.10,3.10l-3.10,-3.10zM930.73,309.70l3.10,3.10l-3.10,3.10l-3.10,-3.10zM934.19,312.81l3.10,3.10l-3.10,3.10l-3.10,-3.10zM933.08,316.12l3.10,3.10l-3.10,3.10l-3.10,-3.10zM933.80,309.50l3.10,3.10l-3.10,3.10l-3.10,-3.10zM933.87,306.84l3.10,3.10l-3.10,3.10l-3.10,-3.10zM936.52,317.51l3.10,3.10l-3.10,3.10l-3.10,-3.10zM938.07,315.99l3.10,3.10l-3.10,3.10l-3.10,-3.10zM936.13,316.95l3.10,3.10l-3.10,3.10l-3.10,-3.10zM936.34,319.97l3.10,3.10l-3.10,3.10l-3.10,-3.10zM936.44,314.88l3.10,3.10l-3.10,3.10l-3.10,-3.10zM938.33,322.23l3.10,3.10l-3.10,3.10l-3.10,-3.10zM936.60,321.96l3.10,3.10l-3.10,3.10l-3.10,-3.10zM943.46,323.93l3.10,3.10l-3.10,3.10l-3.10,-3.10zM938.62,326.86l3.10,3.10l-3.10,3.10l-3.10,-3.10zM941.80,321.64l3.10,3.10l-3.10,3.10l-3.10,-3.10zM940.06,318.52l3.10,3.10l-3.10,3.10l-3.10,-3.10zM938.38,326.46l3.10,3.10l-3.10,3.10l-3.10,-3.10zM938.56,325.80l3.10,3.10l-3.10,3.10l-3.10,-3.10zM940.60,322.28l3.10,3.10l-3.10,3.10l-3.10,-3.10zM940.64,316.42l3.10,3.10l-3.10,3.10l-3.10,-3.10zM941.75,320.56l3.10,3.10l-3.10,3.10l-3.10,-3.10zM940.93,325.36l3.10,3.10l-3.10,3.10l-3.10,-3.10zM946.28,324.14l3.10,3.10l-3.10,3.10l-3.10,-3.10zM946.42,319.60l3.10,3.10l-3.10,3.10l-3.10,-3.10zM941.35,323.69l3.10,3.10l-3.10,3.10l-3.10,-3.10zM945.01,320.50l3.10,3.10l-3.10,3.10l-3.10,-3.10zM946.46,322.88l3.10,3.10l-3.10,3.10l-3.10,-3.10zM944.76,326.17l3.10,3.10l-3.10,3.10l-3.10,-3.10zM945.36,322.71l3.10,3.10l-3.10,3.10l-3.10,-3.10zM947.66,324.09l3.10,3.10l-3.10,3.10l-3.10,-3.10zM947.34,327.36l3.10,3.10l-3.10,3.10l-3.10,-3.10zM945.33,330.32l3.10,3.10l-3.10,3.10l-3.10,-3.10zM949.20,326.59l3.10,3.10l-3.10,3.10l-3.10,-3.10zM947.24,326.89l3.10,3.10l-3.10,3.10l-3.10,-3.10zM950.98,322.73l3.10,3.10l-3.10,3.10l-3.10,-3.10zM947.48,322.26l3.10,3.10l-3.10,3.10l-3.10,-3.10zM946.05,326.82l3.10,3.10l-3.10,3.10l-3.10,-3.10zM949.86,325.22l3.10,3.10l-3.10,3.10l-3.10,-3.10zM951.87,320.69l3.10,3.10l-3.10,3.10l-3.10,-3.10zM951.34,328.85l3.10,3.10l-3.10,3.10l-3.10,-3.10zM951.29,325.43l3.10,3.10l-3.10,3.10l-3.10,-3.10zM950.22,327.57l3.10,3.10l-3.10,3.10l-3.10,-3.10zM953.25,329.46l3.10,3.10l-3.10,3.10l-3.10,-3.10zM949.81,329.60l3.10,3.10l-3.10,3.10l-3.10,-3.10zM953.97,326.73l3.10,3.10l-3.10,3.10l-3.10,-3.10zM951.60,322.40l3.10,3.10l-3.10,3.10l-3.10,-3.10zM952.91,329.63l3.10,3.10l-3.10,3.10l-3.10,-3.10zM952.34,324.74l3.10,3.10l-3.10,3.10l-3.10,-3.10zM953.36,321.23l3.10,3.10l-3.10,3.10l-3.10,-3.10zM957.19,319.15l3.10,3.10l-3.10,3.10l-3.10,-3.10zM953.88,329.73l3.10,3.10l-3.10,3.10l-3.10,-3.10zM956.25,326.67l3.10,3.10l-3.10,3.10l-3.10,-3.10zM955.30,328.26l3.10,3.10l-3.10,3.10l-3.10,-3.10zM958.33,328.91l3.10,3.10l-3.10,3.10l-3.10,-3.10zM955.41,326.33l3.10,3.10l-3.10,3.10l-3.10,-3.10zM957.78,322.42l3.10,3.10l-3.10,3.10l-3.10,-3.10zM959.50,329.29l3.10,3.10l-3.10,3.10l-3.10,-3.10zM961.87,330.61l3.10,3.10l-3.10,3.10l-3.10,-3.10zM957.45,327.22l3.10,3.10l-3.10,3.10l-3.10,-3.10zM958.33,332.36l3.10,3.10l-3.10,3.10l-3.10,-3.10zM959.95,335.37l3.10,3.10l-3.10,3.10l-3.10,-3.10zM962.56,327.17l3.10,3.10l-3.10,3.10l-3.10,-3.10zM959.47,330.47l3.10,3.10l-3.10,3.10l-3.10,-3.10zM962.52,335.06l3.10,3.10l-3.10,3.10l-3.10,-3.10zM960.93,332.79l3.10,3.10l-3.10,3.10l-3.10,-3.10zM960.79,334.50l3.10,3.10l-3.10,3.10l-3.10,-3.10zM960.46,338.49l3.10,3.10l-3.10,3.10l-3.10,-3.10zM963.34,337.27l3.10,3.10l-3.10,3.10l-3.10,-3.10zM964.99,333.91l3.10,3.10l-3.10,3.10l-3.10,-3.10zM963.91,335.31l3.10,3.10l-3.10,3.10l-3.10,-3.10zM961.50,331.47l3.10,3.10l-3.10,3.10l-3.10,-3.10zM964.16,333.77l3.10,3.10l-3.10,3.10l-3.10,-3.10zM966.77,331.53l3.10,3.10l-3.10,3.10l-3.10,-3.10zM967.08,329.57l3.10,3.10l-3.10,3.10l-3.10,-3.10zM966.69,334.49l3.10,3.10l-3.10,3.10l-3.10,-3.10zM968.84,333.76l3.10,3.10l-3.10,3.10l-3.10,-3.10zM965.40,340.73l3.10,3.10l-3.10,3.10l-3.10,-3.10zM965.90,342.52l3.10,3.10l-3.10,3.10l-3.10,-3.10zM971.48,338.12l3.10,3.10l-3.10,3.10l-3.10,-3.10zM969.50,340.55l3.10,3.10l-3.10,3.10l-3.10,-3.10zM968.71,336.84l3.10,3.10l-3.10,3.10l-3.10,-3.10zM968.75,335.47l3.10,3.10l-3.10,3.10l-3.10,-3.10zM966.23,336.54l3.10,3.10l-3.10,3.10l-3.10,-3.10zM971.53,336.98l3.10,3.10l-3.10,3.10l-3.10,-3.10zM967.85,337.29l3.10,3.10l-3.10,3.10l-3.10,-3.10zM968.45,337.48l3.10,3.10l-3.10,3.10l-3.10,-3.10zM971.62,342.30l3.10,3.10l-3.10,3.10l-3.10,-3.10zM974.28,337.07l3.10,3.10l-3.10,3.10l-3.10,-3.10zM972.03,334.22l3.10,3.10l-3.10,3.10l-3.10,-3.10zM973.57,339.98l3.10,3.10l-3.10,3.10l-3.10,-3.10zM972.87,338.53l3.10,3.10l-3.10,3.10l-3.10,-3.10zM974.50,343.13l3.10,3.10l-3.10,3.10l-3.10,-3.10zM972.02,346.07l3.10,3.10l-3.10,3.10l-3.10,-3.10zM977.83,341.13l3.10,3.10l-3.10,3.10l-3.10,-3.10zM973.92,343.10l3.10,3.10l-3.10,3.10l-3.10,-3.10zM976.54,347.32l3.10,3.10l-3.10,3.10l-3.10,-3.10zM973.28,341.70l3.10,3.10l-3.10,3.10l-3.10,-3.10zM979.17,341.92l3.10,3.10l-3.10,3.10l-3.10,-3.10zM977.71,342.66l3.10,3.10l-3.10,3.10l-3.10,-3.10zM980.40,342.39l3.10,3.10l-3.10,3.10l-3.10,-3.10zM977.06,344.35l3.10,3.10l-3.10,3.10l-3.10,-3.10zM979.93,343.40l3.10,3.10l-3.10,3.10l-3.10,-3.10zM978.65,344.02l3.10,3.10l-3.10,3.10l-3.10,-3.10zM979.29,338.69l3.10,3.10l-3.10,3.10l-3.10,-3.10zM981.65,333.08l3.10,3.10l-3.10,3.10l-3.10,-3.10zM978.96,338.68l3.10,3.10l-3.10,3.10l-3.10,-3.10zM981.76,348.10l3.10,3.10l-3.10,3.10l-3.10,-3.10zM983.93,343.18l3.10,3.10l-3.10,3.10l-3.10,-3.10zM984.11,335.88l3.10,3.10l-3.10,3.10l-3.10,-3.10zM983.58,341.44l3.10,3.10l-3.10,3.10l-3.10,-3.10zM982.99,344.85l3.10,3.10l-3.10,3.10l-3.10,-3.10zM981.59,336.17l3.10,3.10l-3.10,3.10l-3.10,-3.10zM985.47,342.80l3.10,3.10l-3.10,3.10l-3.10,-3.10zM982.90,338.09l3.10,3.10l-3.10,3.10l-3.10,-3.10zM986.04,346.02l3.10,3.10l-3.10,3.10l-3.10,-3.10zM984.31,344.08l3.10,3.10l-3.10,3.10l-3.10,-3.10zM985.25,355.43l3.10,3.10l-3.10,3.10l-3.10,-3.10zM985.68,340.29l3.10,3.10l-3.10,3.10l-3.10,-3.10zM987.00,344.97l3.10,3.10l-3.10,3.10l-3.10,-3.10zM985.96,338.55l3.10,3.10l-3.10,3.10l-3.10,-3.10zM987.29,348.20l3.10,3.10l-3.10,3.10l-3.10,-3.10zM986.74,346.02l3.10,3.10l-3.10,3.10l-3.10,-3.10zM988.69,348.98l3.10,3.10l-3.10,3.10l-3.10,-3.10zM988.79,346.62l3.10,3.10l-3.10,3.10l-3.10,-3.10zM989.45,339.65l3.10,3.10l-3.10,3.10l-3.10,-3.10zM988.08,343.09l3.10,3.10l-3.10,3.10l-3.10,-3.10zM990.20,341.42l3.10,3.10l-3.10,3.10l-3.10,-3.10zM990.25,341.85l3.10,3.10l-3.10,3.10l-3.10,-3.10zM991.47,344.96l3.10,3.10l-3.10,3.10l-3.10,-3.10zM991.16,348.63l3.10,3.10l-3.10,3.10l-3.10,-3.10zM990.15,348.03l3.10,3.10l-3.10,3.10l-3.10,-3.10zM993.02,345.62l3.10,3.10l-3.10,3.10l-3.10,-3.10zM991.48,340.06l3.10,3.10l-3.10,3.10l-3.10,-3.10zM993.29,345.60l3.10,3.10l-3.10,3.10l-3.10,-3.10zM990.38,340.38l3.10,3.10l-3.10,3.10l-3.10,-3.10zM994.50,345.80l3.10,3.10l-3.10,3.10l-3.10,-3.10zM995.17,347.81l3.10,3.10l-3.10,3.10l-3.10,-3.10zM993.37,347.38l3.10,3.10l-3.10,3.10l-3.10,-3.10zM995.96,348.01l3.10,3.10l-3.10,3.10l-3.10,-3.10zM995.05,347.98l3.10,3.10l-3.10,3.10l-3.10,-3.10zM998.00,353.45l3.10,3.10l-3.10,3.10l-3.10,-3.10zM997.43,351.90l3.10,3.10l-3.10,3.10l-3.10,-3.10zM995.15,348.82l3.10,3.10l-3.10,3.10l-3.10,-3.10zM997.09,351.55l3.10,3.10l-3.10,3.10l-3.10,-3.10zM995.31,347.40l3.10,3.10l-3.10,3.10l-3.10,-3.10zM997.82,356.43l3.10,3.10l-3.10,3.10l-3.10,-3.10zM999.50,347.94l3.10,3.10l-3.10,3.10l-3.10,-3.10zM1000.36,341.26l3.10,3.10l-3.10,3.10l-3.10,-3.10zM999.48,346.43l3.10,3.10l-3.10,3.10l-3.10,-3.10zM999.74,347.13l3.10,3.10l-3.10,3.10l-3.10,-3.10zM1000.76,347.10l3.10,3.10l-3.10,3.10l-3.10,-3.10zM1000.12,343.71l3.10,3.10l-3.10,3.10l-3.10,-3.10zM1001.90,346.24l3.10,3.10l-3.10,3.10l-3.10,-3.10zM1003.48,346.89l3.10,3.10l-3.10,3.10l-3.10,-3.10zM1002.61,348.88l3.10,3.10l-3.10,3.10l-3.10,-3.10zM1004.02,348.43l3.10,3.10l-3.10,3.10l-3.10,-3.10zM1002.13,355.24l3.10,3.10l-3.10,3.10l-3.10,-3.10zM1003.00,347.48l3.10,3.10l-3.10,3.10l-3.10,-3.10zM1004.63,352.06l3.10,3.10l-3.10,3.10l-3.10,-3.10z" fill="#4F81BD" stroke="none"/>
<path d="M728.10,354.89 L729.10,354.77 L730.10,354.62 L731.10,354.45 L732.10,354.24 L733.10,354.00 L734.10,353.71 L735.10,353.37 L736.10,352.98 L737.10,352.53 L738.10,352.01 L739.10,351.41 L740.10,350.74 L741.10,349.97 L742.10,349.11 L743.10,348.15 L744.10,347.08 L745.10,345.90 L746.10,344.60 L747.10,343.19 L748.10,341.67 L749.10,340.03 L750.10,338.27 L751.10,336.41 L752.10,334.45 L753.10,332.40 L754.10,330.27 L755.10,328.08 L756.10,325.84 L757.10,323.57 L758.10,321.30 L759.10,319.04 L760.10,316.83 L761.10,314.68 L762.10,312.61 L763.10,310.67 L764.10,308.86 L765.10,307.22 L766.10,305.76 L767.10,304.50 L768.10,303.47 L769.10,302.68 L770.10,302.13 L771.10,301.85 L772.10,301.82 L773.10,302.06 L774.10,302.55 L775.10,303.29 L776.10,304.28 L777.10,305.49 L778.10,306.91 L779.10,308.52 L780.10,310.29 L781.10,312.21 L782.10,314.26 L783.10,316.39 L784.10,318.60 L785.10,320.85 L786.10,323.12 L787.10,325.39 L788.10,327.63 L789.10,329.83 L790.10,331.98 L791.10,334.04 L792.10,336.02 L793.10,337.91 L794.10,339.68 L795.10,341.35 L796.10,342.90 L797.10,344.33 L798.10,345.65 L799.10,346.85 L800.10,347.94 L801.10,348.92 L802.10,349.80 L803.10,350.59 L804.10,351.28 L805.10,351.90 L806.10,352.43 L807.10,352.90 L808.10,353.30 L809.10,353.65 L810.10,353.94 L811.10,354.20 L812.10,354.41 L813.10,354.59 L814.10,354.74 L815.00,354.85" stroke="#C00000" />
<path d="M728.10,355.30 L729.10,355.28 L730.10,355.26 L731.10,355.23 L732.10,355.21 L733.10,355.17 L734.10,355.13 L735.10,355.09 L736.10,355.04 L737.10,354.98 L738.10,354.91 L739.10,354.83 L740.10,354.74 L741.10,354.64 L742.10,354.52 L743.10,354.38 L744.10,354.23 L745.10,354.06 L746.10,353.87 L747.10,353.65 L748.10,353.41 L749.10,353.13 L750.10,352.82 L751.10,352.48 L752.10,352.09 L753.10,351.67 L754.10,351.19 L755.10,350.66 L756.10,350.08 L757.10,349.44 L758.10,348.73 L759.10,347.95 L760.10,347.10 L761.10,346.16 L762.10,345.14 L763.10,344.03 L764.10,342.82 L765.10,341.52 L766.10,340.10 L767.10,338.57 L768.10,336.92 L769.10,335.15 L770.10,333.25 L771.10,331.22 L772.10,329.06 L773.10,326.75 L774.10,324.30 L775.10,321.71 L776.10,318.96 L777.10,316.07 L778.10,313.03 L779.10,309.84 L780.10,306.50 L781.10,303.02 L782.10,299.39 L783.10,295.63 L784.10,291.73 L785.10,287.71 L786.10,283.57 L787.10,279.33 L788.10,274.98 L789.10,270.54 L790.10,266.03 L791.10,261.46 L792.10,256.84 L793.10,252.18 L794.10,247.52 L795.10,242.85 L796.10,238.20 L797.10,233.60 L798.10,229.05 L799.10,224.57 L800.10,220.20 L801.10,215.94 L802.10,211.82 L803.10,207.86 L804.10,204.08 L805.10,200.49 L806.10,197.11 L807.10,193.97 L808.10,191.07 L809.10,188.44 L810.10,186.09 L811.10,184.03 L812.10,182.27 L813.10,180.83 L814.10,179.70 L815.10,178.90 L816.10,178.44 L817.10,178.30 L818.10,178.50 L819.10,179.04 L820.10,179.90 L821.10,181.09 L822.10,182.60 L823.10,184.42 L824.10,186.54 L825.10,188.95 L826.10,191.63 L827.10,194.58 L828.10,197.77 L829.10,201.19 L830.10,204.82 L831.10,208.64 L832.10,212.63 L833.10,216.78 L834.10,221.07 L835.10,225.46 L836.10,229.95 L837.10,234.51 L838.10,239.13 L839.10,243.78 L840.10,248.45 L841.10,253.12 L842.10,257.76 L843.10,262.38 L844.10,266.94 L845.10,271.44 L846.10,275.85 L847.10,280.18 L848.10,284.41 L849.10,288.53 L850.10,292.52 L851.10,296.39 L852.10,300.13 L853.10,303.73 L854.10,307.18 L855.10,310.49 L856.10,313.65 L857.10,316.66 L858.10,319.52 L859.10,322.24 L860.10,324.80 L861.10,327.22 L862.10,329.50 L863.10,331.64 L864.10,333.64 L865.10,335.52 L866.10,337.26 L867.10,338.88 L868.10,340.39 L869.10,341.79 L870.10,343.07 L871.10,344.26 L872.10,345.35 L873.10,346.36 L874.10,347.27 L875.10,348.11 L876.10,348.88 L877.10,349.57 L878.10,350.20 L879.10,350.77 L880.10,351.29 L881.10,351.76 L882.10,352.17 L883.10,352.55 L884.10,352.89 L885.10,353.19 L886.10,353.46 L887.10,353.70 L888.10,353.91 L889.10,354.10 L890.10,354.27 L891.10,354.41 L892.10,354.54 L893.10,354.66 L894.10,354.76 L895.10,354.84 L896.10,354.92 L897.10,354.99 L898.10,355.05 L899.10,355.10 L900.10,355.14 L901.10,355.18 L902.10,355.21 L903.10,355.24 L904.10,355.26 L905.10,355.28 L905.85,355.30" stroke="#00B050" />
<path d="M818.95,355.31 L819.95,355.28 L820.95,355.25 L821.95,355.21 L822.95,355.15 L823.95,355.09 L824.95,355.01 L825.95,354.91 L826.95,354.79 L827.95,354.64 L828.95,354.46 L829.95,354.25 L830.95,354.00 L831.95,353.70 L832.95,353.34 L833.95,352.93 L834.95,352.45 L835.95,351.90 L836.95,351.27 L837.95,350.55 L838.95,349.74 L839.95,348.83 L840.95,347.81 L841.95,346.68 L842.95,345.44 L843.95,344.09 L844.95,342.62 L845.95,341.04 L846.95,339.35 L847.95,337.56 L848.95,335.68 L849.95,333.72 L850.95,331.70 L851.95,329.64 L852.95,327.54 L853.95,325.44 L854.95,323.36 L855.95,321.32 L856.95,319.34 L857.95,317.47 L858.95,315.71 L859.95,314.10 L860.95,312.66 L861.95,311.41 L862.95,310.37 L863.95,309.56 L864.95,308.99 L865.95,308.67 L866.95,308.61 L867.95,308.80 L868.95,309.25 L869.95,309.94 L870.95,310.86 L871.95,312.01 L872.95,313.36 L873.95,314.88 L874.95,316.57 L875.95,318.39 L876.95,320.32 L877.95,322.33 L878.95,324.39 L879.95,326.49 L880.95,328.59 L881.95,330.67 L882.95,332.72 L883.95,334.71 L884.95,336.63 L885.95,338.47 L886.95,340.21 L887.95,341.84 L888.95,343.37 L889.95,344.78 L890.95,346.08 L891.95,347.26 L892.95,348.33 L893.95,349.30 L894.95,350.16 L895.95,350.92 L896.95,351.60 L897.95,352.19 L898.95,352.70 L899.95,353.15 L900.95,353.53 L901.95,353.85 L902.95,354.13 L903.95,354.36 L904.95,354.55 L905.95,354.72 L906.95,354.85 L907.95,354.96 L908.95,355.05 L909.95,355.12 L910.95,355.18 L911.95,355.23 L912.95,355.27 L913.95,355.30 L914.95,355.32 L915.95,355.34 L916.95,355.35 L917.95,355.37 L918.95,355.37 L919.95,355.38 L920.95,355.39 L921.95,355.39 L922.95,355.39 L923.95,355.39 L924.95,355.40 L925.60,355.40" stroke="#00B0F0" />
</g>
<g fill="none" stroke="#000" stroke-width="2.6" stroke-linecap="butt" stroke-linejoin="miter">
<path d="M161.8,151.2 L211.0,179.6 M194.2,179.9 L211.0,179.6 L202.8,164.9"/>
<path d="M132.1,217.5 L190.1,279.8 M174.0,275.2 L190.1,279.8 L186.7,263.4"/>
<path d="M359.5,124.5 L328.7,153.7 M333.2,137.5 L328.7,153.7 L345.1,150.1"/>
<path d="M377.3,271.6 L261.3,326.7 M270.6,312.7 L261.3,326.7 L278.0,328.4"/>
</g><g fill="none" stroke="#000" stroke-width="2.3" stroke-linecap="butt" stroke-linejoin="miter">
<path d="M741.2,143.4 L807.6,185.8 M790.3,185.3 L807.6,185.8 L799.9,170.3"/>
<path d="M882.2,153.6 L851.6,235.6 M848.4,218.6 L851.6,235.6 L865.1,224.8"/>
<path d="M688.5,266.3 L754.9,307.3 M737.6,307.1 L754.9,307.3 L747.0,292.0"/>
<path d="M941.5,278.6 L876.0,310.8 M886.0,295.3 L876.0,310.8 L894.4,312.4"/>
</g>
<g fill="#000">
<text x="122" y="113.5" font-size="27.5" text-anchor="middle" font-weight="normal" font-family="Liberation Serif" >α1</text>
<text x="123.05" y="145.9" font-size="27.5" text-anchor="middle" font-weight="normal" font-family="Liberation Serif"  letter-spacing="0.5">(4.39Å)</text>
<text x="124.5" y="207.5" font-size="27.5" text-anchor="middle" font-weight="normal" font-family="Liberation Serif" >Amorphous</text>
<text x="388.2" y="82.6" font-size="27.5" text-anchor="middle" font-weight="normal" font-family="Liberation Serif" >α2</text>
<text x="388.25" y="114.6" font-size="27.5" text-anchor="middle" font-weight="normal" font-family="Liberation Serif"  letter-spacing="0.5">(3.75Å)</text>
<text x="400.8" y="231.5" font-size="27.5" text-anchor="middle" font-weight="normal" font-family="Liberation Serif" >γ</text>
<text x="400.95" y="263.5" font-size="27.5" text-anchor="middle" font-weight="normal" font-family="Liberation Serif"  letter-spacing="0.5">(4.16Å)</text>
<text x="430.6" y="35.3" font-size="28.5" text-anchor="middle" font-weight="bold" font-family="Liberation Serif" >a</text>
<text x="679.5" y="225" font-size="27.5" text-anchor="middle" font-weight="normal" font-family="Liberation Serif" >α1</text>
<text x="680.55" y="256.5" font-size="27.5" text-anchor="middle" font-weight="normal" font-family="Liberation Serif"  letter-spacing="0.5">(4.39Å)</text>
<text x="933" y="145.3" font-size="27.5" text-anchor="middle" font-weight="normal" font-family="Liberation Serif" >Amorphous</text>
<text x="951" y="238.4" font-size="27.5" text-anchor="middle" font-weight="normal" font-family="Liberation Serif" >α2</text>
<text x="950.85" y="269.6" font-size="27.5" text-anchor="middle" font-weight="normal" font-family="Liberation Serif"  letter-spacing="0.5">(3.75Å)</text>
<text x="703.8" y="138.5" font-size="27.5" text-anchor="middle" font-weight="normal" font-family="Liberation Serif" >γ</text>
<text x="703.95" y="170.2" font-size="27.5" text-anchor="middle" font-weight="normal" font-family="Liberation Serif"  letter-spacing="0.5">(4.16Å)</text>
<text x="979.4" y="41.6" font-size="27.2" text-anchor="middle" font-weight="bold" font-family="Liberation Serif" >b</text>
<text x="52" y="408.3" font-size="28.5" text-anchor="middle" font-weight="normal" font-family="Liberation Serif" >1.0</text>
<text x="609.6" y="406.1" font-size="28.5" text-anchor="middle" font-weight="normal" font-family="Liberation Serif" >1.0</text>
<text x="131" y="408.3" font-size="28.5" text-anchor="middle" font-weight="normal" font-family="Liberation Serif" >1.2</text>
<text x="688.6" y="406.1" font-size="28.5" text-anchor="middle" font-weight="normal" font-family="Liberation Serif" >1.2</text>
<text x="210" y="408.3" font-size="28.5" text-anchor="middle" font-weight="normal" font-family="Liberation Serif" >1.4</text>
<text x="767.6" y="406.1" font-size="28.5" text-anchor="middle" font-weight="normal" font-family="Liberation Serif" >1.4</text>
<text x="289" y="408.3" font-size="28.5" text-anchor="middle" font-weight="normal" font-family="Liberation Serif" >1.6</text>
<text x="846.6" y="406.1" font-size="28.5" text-anchor="middle" font-weight="normal" font-family="Liberation Serif" >1.6</text>
<text x="368" y="408.3" font-size="28.5" text-anchor="middle" font-weight="normal" font-family="Liberation Serif" >1.8</text>
<text x="925.6" y="406.1" font-size="28.5" text-anchor="middle" font-weight="normal" font-family="Liberation Serif" >1.8</text>
<text x="447" y="408.3" font-size="28.5" text-anchor="middle" font-weight="normal" font-family="Liberation Serif" >2.0</text>
<text x="1004.6" y="406.1" font-size="28.5" text-anchor="middle" font-weight="normal" font-family="Liberation Serif" >2.0</text>
<text x="249.2" y="438.8" font-size="28" text-anchor="middle" font-weight="bold" letter-spacing="0.5" font-family="Liberation Serif">q(Å<tspan font-size="17" dy="-8">-1</tspan><tspan dy="8">)</tspan></text>
<text x="806.6" y="434.4" font-size="28" text-anchor="middle" font-weight="bold" letter-spacing="0.5" font-family="Liberation Serif">q(Å<tspan font-size="17" dy="-8">-1</tspan><tspan dy="8">)</tspan></text>
<text x="0" y="0" font-size="28" text-anchor="middle" font-weight="bold" font-family="Liberation Serif" transform="translate(24.9,182) rotate(-90)">I (Counts)</text>
<text x="0" y="0" font-size="28" text-anchor="middle" font-weight="bold" font-family="Liberation Serif" transform="translate(582.9,181.5) rotate(-90)">I (Counts)</text>
</g>
</svg>
</body></html>
